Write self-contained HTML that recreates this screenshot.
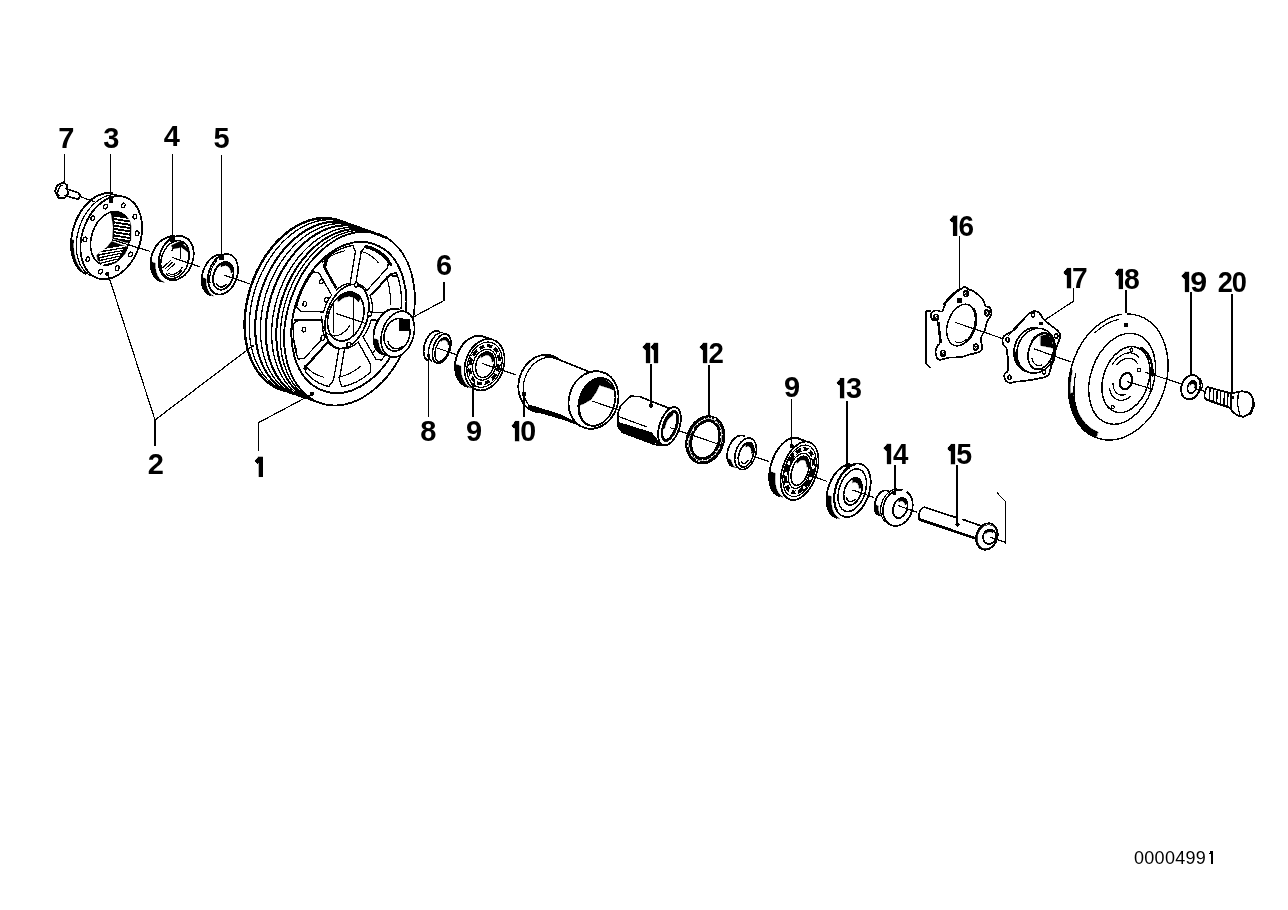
<!DOCTYPE html>
<html><head><meta charset="utf-8"><style>
html,body{margin:0;padding:0;background:#fff;width:1288px;height:910px;overflow:hidden}
svg{position:absolute;left:0;top:0}
text{font-family:"Liberation Sans",sans-serif;font-weight:bold;fill:#000}
svg{will-change:transform}
.code{font-weight:normal}
</style></head><body>
<svg width="1288" height="910" viewBox="0 0 1288 910" shape-rendering="crispEdges">
<rect width="1288" height="910" fill="#fff"/>
<text x="58.35" y="148" font-size="29">7</text>
<text x="103.13" y="147.7" font-size="29">3</text>
<text x="163.87" y="145.8" font-size="29">4</text>
<text x="213.6" y="147.7" font-size="29">5</text>
<text x="436.03" y="275.4" font-size="29">6</text>
<text x="147.69" y="473.9" font-size="29">2</text>
<path d="M258.5 456.6 L262.5 456.6 L262.5 476.6 L258.5 476.6 L258.5 463.2 L257.5 463.6 L255.2 461.2 L255.5 460.2 L257.5 458.2Z" fill="#000" stroke="#000" stroke-width="0.3" stroke-linejoin="round" stroke-linecap="round"/>
<text x="420.17" y="441.3" font-size="29">8</text>
<text x="465.99" y="441.3" font-size="29">9</text>
<path d="M515.2 421.3 L519.2 421.3 L519.2 441.3 L515.2 441.3 L515.2 427.9 L514.2 428.3 L511.9 425.9 L512.2 424.9 L514.2 422.9Z" fill="#000" stroke="#000" stroke-width="0.3" stroke-linejoin="round" stroke-linecap="round"/>
<text transform="translate(520.35 441.3) scale(0.987 1)" font-size="29">0</text>
<path d="M646.1 343 L650.1 343 L650.1 363 L646.1 363 L646.1 349.6 L645.1 350 L642.8 347.6 L643.1 346.6 L645.1 344.6Z" fill="#000" stroke="#000" stroke-width="0.3" stroke-linejoin="round" stroke-linecap="round"/>
<path d="M654 343 L658 343 L658 363 L654 363 L654 349.6 L653 350 L650.7 347.6 L651 346.6 L653 344.6Z" fill="#000" stroke="#000" stroke-width="0.3" stroke-linejoin="round" stroke-linecap="round"/>
<path d="M703.2 343 L707.2 343 L707.2 363 L703.2 363 L703.2 349.6 L702.2 350 L699.9 347.6 L700.2 346.6 L702.2 344.6Z" fill="#000" stroke="#000" stroke-width="0.3" stroke-linejoin="round" stroke-linecap="round"/>
<text transform="translate(708.53 363) scale(0.953 1)" font-size="29">2</text>
<text x="783.99" y="396.6" font-size="29">9</text>
<path d="M840.3 378.4 L844.3 378.4 L844.3 398.4 L840.3 398.4 L840.3 385 L839.3 385.4 L837 383 L837.3 382 L839.3 380Z" fill="#000" stroke="#000" stroke-width="0.3" stroke-linejoin="round" stroke-linecap="round"/>
<text transform="translate(845.94 398.4) scale(0.992 1)" font-size="29">3</text>
<path d="M887 444 L891 444 L891 464 L887 464 L887 450.6 L886 451 L883.7 448.6 L884 447.6 L886 445.6Z" fill="#000" stroke="#000" stroke-width="0.3" stroke-linejoin="round" stroke-linecap="round"/>
<text transform="translate(892.89 464) scale(0.952 1)" font-size="29">4</text>
<path d="M950.9 444.3 L954.9 444.3 L954.9 464.3 L950.9 464.3 L950.9 450.9 L949.9 451.3 L947.6 448.9 L947.9 447.9 L949.9 445.9Z" fill="#000" stroke="#000" stroke-width="0.3" stroke-linejoin="round" stroke-linecap="round"/>
<text transform="translate(956.31 464.3) scale(0.985 1)" font-size="29">5</text>
<path d="M953.3 215.5 L957.3 215.5 L957.3 235.5 L953.3 235.5 L953.3 222.1 L952.3 222.5 L950 220.1 L950.3 219.1 L952.3 217.1Z" fill="#000" stroke="#000" stroke-width="0.3" stroke-linejoin="round" stroke-linecap="round"/>
<text transform="translate(958.57 235.5) scale(0.964 1)" font-size="29">6</text>
<path d="M1067 268.3 L1071 268.3 L1071 288.3 L1067 288.3 L1067 274.9 L1066 275.3 L1063.7 272.9 L1064 271.9 L1066 269.9Z" fill="#000" stroke="#000" stroke-width="0.3" stroke-linejoin="round" stroke-linecap="round"/>
<text transform="translate(1072.09 288.3) scale(0.971 1)" font-size="29">7</text>
<path d="M1118.6 268.8 L1122.6 268.8 L1122.6 288.8 L1118.6 288.8 L1118.6 275.4 L1117.6 275.8 L1115.3 273.4 L1115.6 272.4 L1117.6 270.4Z" fill="#000" stroke="#000" stroke-width="0.3" stroke-linejoin="round" stroke-linecap="round"/>
<text transform="translate(1123.99 288.8) scale(0.979 1)" font-size="29">8</text>
<path d="M1185 271.8 L1189 271.8 L1189 291.8 L1185 291.8 L1185 278.4 L1184 278.8 L1181.7 276.4 L1182 275.4 L1184 273.4Z" fill="#000" stroke="#000" stroke-width="0.3" stroke-linejoin="round" stroke-linecap="round"/>
<text transform="translate(1190.24 291.8) scale(1.047 1)" font-size="29">9</text>
<text transform="translate(1217.65 292) scale(0.938 1)" font-size="29">2</text>
<text transform="translate(1231.79 292) scale(0.938 1)" font-size="29">0</text>
<text class="code" x="1134" y="863.5" font-size="18" letter-spacing="0.3">0000499</text>
<path d="M1211 850.5 L1212.6 850.5 L1212.6 863.5 L1211 863.5 L1211 853.8 L1208.7 854.8 L1208.7 853.5 L1210 852.2Z" fill="#000" stroke="#000" stroke-width="0" stroke-linejoin="round" stroke-linecap="round"/>
<line x1="64.25" y1="154" x2="64.25" y2="183" stroke="#000" stroke-width="1.2"/>
<line x1="110.75" y1="154" x2="110.75" y2="201" stroke="#000" stroke-width="1.2"/>
<line x1="172.5" y1="154" x2="172.5" y2="237" stroke="#000" stroke-width="1.2"/>
<line x1="221.75" y1="155" x2="221.75" y2="257.5" stroke="#000" stroke-width="1.2"/>
<path d="M444 282 L444 300.5 L406 321" fill="none" stroke="#000" stroke-width="1.2" stroke-linejoin="round" stroke-linecap="round"/>
<path d="M107.5 272.5 L155 420 L155 446" fill="none" stroke="#000" stroke-width="1.2" stroke-linejoin="round" stroke-linecap="round"/>
<path d="M252.5 346 L155 420" fill="none" stroke="#000" stroke-width="1.2" stroke-linejoin="round" stroke-linecap="round"/>
<path d="M312.5 394 L258.75 422.5 L258.75 450" fill="none" stroke="#000" stroke-width="1.2" stroke-linejoin="round" stroke-linecap="round"/>
<line x1="428.75" y1="354" x2="428.75" y2="417" stroke="#000" stroke-width="1.2"/>
<line x1="473" y1="380" x2="473" y2="417" stroke="#000" stroke-width="1.2"/>
<line x1="524" y1="392" x2="524" y2="417" stroke="#000" stroke-width="1.2"/>
<line x1="651" y1="364" x2="651" y2="407" stroke="#000" stroke-width="1.2"/>
<line x1="709" y1="365" x2="709" y2="420" stroke="#000" stroke-width="1.2"/>
<line x1="791.75" y1="399" x2="791.75" y2="446" stroke="#000" stroke-width="1.2"/>
<line x1="847" y1="401" x2="847" y2="467.5" stroke="#000" stroke-width="1.2"/>
<line x1="895" y1="465" x2="895" y2="494" stroke="#000" stroke-width="1.2"/>
<line x1="957" y1="465" x2="957" y2="525" stroke="#000" stroke-width="1.2"/>
<line x1="959.5" y1="236" x2="959.5" y2="300" stroke="#000" stroke-width="1.2"/>
<path d="M1073.75 289 L1073.75 301 L1041 322.5" fill="none" stroke="#000" stroke-width="1.2" stroke-linejoin="round" stroke-linecap="round"/>
<line x1="1126" y1="290" x2="1126" y2="325" stroke="#000" stroke-width="1.2"/>
<line x1="1191" y1="292" x2="1191" y2="380" stroke="#000" stroke-width="1.2"/>
<line x1="1232" y1="294" x2="1232" y2="397.5" stroke="#000" stroke-width="1.2"/>
<path d="M57.5 185 L63.3 182.3 L67 185.2 L68 194.1 L64.9 197.6 L58.3 197.6 L55 190.8Z" fill="none" stroke="#000" stroke-width="1.8" stroke-linejoin="round" stroke-linecap="round"/>
<path d="M59.11 195.75 L58.87 195.74 L58.64 195.67 L58.44 195.55 L58.26 195.37 L58.11 195.13 L57.98 194.85 L57.88 194.51 L57.81 194.13 L57.77 193.71 L57.76 193.25 L57.78 192.76 L57.83 192.25 L57.92 191.72 L58.03 191.17 L58.16 190.62 L58.33 190.06 L58.52 189.51 L58.73 188.97 L58.96 188.45 L59.2 187.95 L59.47 187.48 L59.74 187.05 L60.02 186.65 L60.31 186.29 L60.6 185.98 L60.89 185.73 L61.17 185.52 L61.45 185.37 L61.71 185.28 L61.97 185.25 L62.2 185.27 L62.42 185.36 L62.62 185.5" fill="none" stroke="#000" stroke-width="1.4" stroke-linejoin="round" stroke-linecap="round"/>
<path d="M65.8 188.6 L78.2 192.8 L80 195 L78.4 199.4 L64.9 195.6" fill="none" stroke="#000" stroke-width="1.7" stroke-linejoin="round" stroke-linecap="round"/>
<ellipse cx="111.3" cy="237.7" rx="29.07" ry="42.83" transform="rotate(18.9 111.3 237.7)" fill="none" stroke="#000" stroke-width="1.8"/>
<path d="M90.83 275.79 L88.1 274.17 L85.59 272.1 L83.34 269.62 L81.36 266.76 L79.67 263.53 L78.31 259.99 L77.28 256.17 L76.6 252.12 L76.27 247.89 L76.3 243.51 L76.69 239.06 L77.43 234.57 L78.52 230.1 L79.94 225.7 L81.67 221.43 L83.7 217.33 L86.01 213.45 L88.55 209.83 L91.31 206.52 L94.26 203.56 L97.35 200.98 L100.56 198.8 L103.84 197.07 L107.16 195.79 L110.48 194.98 L113.75 194.65 L116.95 194.81" fill="none" stroke="#000" stroke-width="1.2" stroke-linejoin="round" stroke-linecap="round"/>
<path d="M85.62 274.01 L82.9 272.39 L80.39 270.32 L78.13 267.84 L76.15 264.97 L74.47 261.75 L73.11 258.21 L72.08 254.39 L71.4 250.34 L71.07 246.1 L71.1 241.73 L71.49 237.28 L72.23 232.79 L73.32 228.32 L74.74 223.92 L76.47 219.65 L78.5 215.55 L80.8 211.66 L83.35 208.05 L86.11 204.74 L89.05 201.78 L92.15 199.19 L95.35 197.02 L98.64 195.29 L101.96 194.01 L105.27 193.2 L108.55 192.87 L111.75 193.02" fill="none" stroke="#000" stroke-width="1.9" stroke-linejoin="round" stroke-linecap="round"/>
<path d="M79.4 269.32 L77.23 266.64 L75.36 263.58 L73.81 260.17 L72.58 256.46 L71.71 252.48 L71.19 248.29 L71.04 243.94 L71.25 239.47 L73.62 240.28 L73.41 244.75 L73.56 249.1 L74.08 253.29 L74.95 257.27 L76.17 260.98 L77.73 264.39 L79.6 267.45 L81.76 270.13Z" fill="#000" stroke="#000" stroke-width="0.5" stroke-linejoin="round" stroke-linecap="round"/>
<ellipse cx="110.5" cy="238.3" rx="18.93" ry="27.47" transform="rotate(18.9 110.5 238.3)" fill="none" stroke="#000" stroke-width="1.6"/>
<path d="M110.5 211.6 L118.3 211.4 L125 215 L129.3 220 L130.8 226 L130.6 240.5 L127.2 242.7 L112.7 238.3 L113.5 227.2 L111.6 215Z" fill="#000" stroke="#000" stroke-width="0.8" stroke-linejoin="round" stroke-linecap="round"/>
<path d="M115 217.5 L129 219.7" fill="none" stroke="#fff" stroke-width="1.4" stroke-linejoin="round" stroke-linecap="round"/>
<path d="M115 220.8 L129 223" fill="none" stroke="#fff" stroke-width="1.4" stroke-linejoin="round" stroke-linecap="round"/>
<path d="M115 224.1 L129 226.3" fill="none" stroke="#fff" stroke-width="1.4" stroke-linejoin="round" stroke-linecap="round"/>
<path d="M115 227.4 L129 229.6" fill="none" stroke="#fff" stroke-width="1.4" stroke-linejoin="round" stroke-linecap="round"/>
<path d="M115 230.7 L129 232.9" fill="none" stroke="#fff" stroke-width="1.4" stroke-linejoin="round" stroke-linecap="round"/>
<path d="M115 234 L129 236.2" fill="none" stroke="#fff" stroke-width="1.4" stroke-linejoin="round" stroke-linecap="round"/>
<path d="M115 237.3 L129 239.5" fill="none" stroke="#fff" stroke-width="1.4" stroke-linejoin="round" stroke-linecap="round"/>
<path d="M97.2 254.9 L107.2 247.2 L111.6 241.6 L127.2 247.2 L125 253.8 L116 262.7 L106 264.9 L98.3 260.5Z" fill="#000" stroke="#000" stroke-width="0.8" stroke-linejoin="round" stroke-linecap="round"/>
<path d="M99 250.5 L124 246.5" fill="none" stroke="#fff" stroke-width="1.4" stroke-linejoin="round" stroke-linecap="round"/>
<path d="M99.5 253.3 L122.5 249.3" fill="none" stroke="#fff" stroke-width="1.4" stroke-linejoin="round" stroke-linecap="round"/>
<path d="M100 256.1 L121 252.1" fill="none" stroke="#fff" stroke-width="1.4" stroke-linejoin="round" stroke-linecap="round"/>
<path d="M100.5 258.9 L119.5 254.9" fill="none" stroke="#fff" stroke-width="1.4" stroke-linejoin="round" stroke-linecap="round"/>
<path d="M101 261.7 L118 257.7" fill="none" stroke="#fff" stroke-width="1.4" stroke-linejoin="round" stroke-linecap="round"/>
<path d="M101.5 264.5 L116.5 260.5" fill="none" stroke="#fff" stroke-width="1.4" stroke-linejoin="round" stroke-linecap="round"/>
<ellipse cx="105.5" cy="206.6" rx="1.8" ry="2.4" transform="rotate(18.9 105.5 206.6)" fill="none" stroke="#000" stroke-width="1.3"/>
<ellipse cx="123.3" cy="205.5" rx="1.8" ry="2.4" transform="rotate(18.9 123.3 205.5)" fill="none" stroke="#000" stroke-width="1.3"/>
<ellipse cx="134.9" cy="216.6" rx="1.8" ry="2.4" transform="rotate(18.9 134.9 216.6)" fill="none" stroke="#000" stroke-width="1.3"/>
<ellipse cx="137.1" cy="233.3" rx="1.8" ry="2.4" transform="rotate(18.9 137.1 233.3)" fill="none" stroke="#000" stroke-width="1.3"/>
<ellipse cx="130.5" cy="254.4" rx="1.8" ry="2.4" transform="rotate(18.9 130.5 254.4)" fill="none" stroke="#000" stroke-width="1.3"/>
<ellipse cx="117.2" cy="268.2" rx="1.8" ry="2.4" transform="rotate(18.9 117.2 268.2)" fill="none" stroke="#000" stroke-width="1.3"/>
<ellipse cx="100.5" cy="271.6" rx="1.8" ry="2.4" transform="rotate(18.9 100.5 271.6)" fill="none" stroke="#000" stroke-width="1.3"/>
<ellipse cx="87.8" cy="259.4" rx="1.8" ry="2.4" transform="rotate(18.9 87.8 259.4)" fill="none" stroke="#000" stroke-width="1.3"/>
<ellipse cx="85" cy="239.4" rx="1.8" ry="2.4" transform="rotate(18.9 85 239.4)" fill="none" stroke="#000" stroke-width="1.3"/>
<ellipse cx="92.7" cy="218.3" rx="1.8" ry="2.4" transform="rotate(18.9 92.7 218.3)" fill="none" stroke="#000" stroke-width="1.3"/>
<rect x="108.8" y="196" width="4" height="6.5" fill="#000"/>
<circle cx="107.2" cy="273.8" r="2" fill="#000"/>
<path d="M161.11 281.33 L159.46 280.73 L157.92 279.88 L156.48 278.81 L155.17 277.53 L154 276.05 L152.98 274.38 L152.13 272.55 L151.46 270.57 L150.96 268.47 L150.66 266.26 L150.54 263.98 L150.61 261.65 L150.88 259.29 L151.34 256.93 L151.97 254.6 L152.79 252.32 L153.77 250.11 L154.91 248 L156.19 246.02 L157.6 244.18 L159.12 242.51 L160.75 241.02 L162.45 239.73 L164.22 238.65 L166.02 237.8 L167.85 237.19 L169.69 236.81 L171.5 236.68 L173.27 236.8" fill="none" stroke="#000" stroke-width="1.8" stroke-linejoin="round" stroke-linecap="round"/>
<path d="M159.2 280.6 L157.55 279.64 L156.03 278.41 L154.66 276.94 L153.47 275.24 L152.47 273.33 L151.66 271.24 L151.07 269 L150.69 266.64 L150.54 264.18 L150.61 261.65 L155.34 263.27 L155.27 265.8 L155.42 268.26 L155.8 270.62 L156.39 272.86 L157.2 274.95 L158.2 276.86 L159.39 278.56 L160.76 280.03 L162.28 281.26 L163.93 282.22Z" fill="#000" stroke="#000" stroke-width="0.5" stroke-linejoin="round" stroke-linecap="round"/>
<path d="M173.27 236.8 L183.05 236.4" fill="none" stroke="#000" stroke-width="1.8" stroke-linejoin="round" stroke-linecap="round"/>
<ellipse cx="176.25" cy="258.05" rx="16.73" ry="22.7" transform="rotate(18.9 176.25 258.05)" fill="#fff" stroke="#000" stroke-width="1.8"/>
<ellipse cx="175.05" cy="259.65" rx="13.5" ry="19.49" transform="rotate(18.9 175.05 259.65)" fill="none" stroke="#000" stroke-width="1.4"/>
<path d="M171.86 250.73 L172.77 249.31 L173.75 248 L174.78 246.82 L175.85 245.78 L176.96 244.89 L178.08 244.16 L179.21 243.6 L180.33 243.23 L181.43 243.03 L182.49 243.02 L183.51 243.19 L184.47 243.54 L185.36 244.08 L186.17 244.78 L186.9 245.65 L187.52 246.67 L188.05 247.83 L188.46 249.13 L188.76 250.53 L188.94 252.04 L189 253.62 L188.94 255.27 L188.76 256.96 L188.46 258.67 L188.04 260.39 L187.52 262.09" fill="none" stroke="#000" stroke-width="1.4" stroke-linejoin="round" stroke-linecap="round"/>
<path d="M171.9 245.4 L179.8 241.5 L189.3 250.2 L187.7 251.7 L181.4 247 L173.5 248.6Z" fill="#000" stroke="#000" stroke-width="0.8" stroke-linejoin="round" stroke-linecap="round"/>
<path d="M180.6 247.8 L180.6 258" fill="none" stroke="#000" stroke-width="1.2" stroke-linejoin="round" stroke-linecap="round"/>
<path d="M162.8 267.5 L170.5 260.5" fill="none" stroke="#000" stroke-width="1" stroke-linejoin="round" stroke-linecap="round"/>
<path d="M165 269.1 L172.7 262.1" fill="none" stroke="#000" stroke-width="1" stroke-linejoin="round" stroke-linecap="round"/>
<path d="M167.2 270.7 L174.9 263.7" fill="none" stroke="#000" stroke-width="1" stroke-linejoin="round" stroke-linecap="round"/>
<path d="M181.68 270.98 L180.54 272.22 L179.34 273.32 L178.09 274.26 L176.81 275.03 L175.5 275.63 L174.2 276.03 L172.9 276.26 L171.62 276.28 L170.39 276.12 L169.21 275.77 L168.09 275.23 L167.06 274.51 L166.12 273.63" fill="none" stroke="#000" stroke-width="1.2" stroke-linejoin="round" stroke-linecap="round"/>
<path d="M182.01 267.53 L181.14 268.82 L180.19 270 L179.19 271.06 L178.14 271.99 L177.05 272.78 L175.94 273.42 L174.82 273.9 L173.71 274.21 L172.61 274.36 L171.53 274.34 L170.5 274.15 L169.52 273.79 L168.6 273.27" fill="none" stroke="#000" stroke-width="1.2" stroke-linejoin="round" stroke-linecap="round"/>
<rect x="169.8" y="235" width="5" height="7" fill="#000"/>
<path d="M210.42 294.92 L209.03 294.41 L207.72 293.68 L206.52 292.75 L205.42 291.62 L204.45 290.31 L203.61 288.84 L202.92 287.21 L202.37 285.45 L201.99 283.58 L201.76 281.61 L201.7 279.57 L201.8 277.49 L202.07 275.37 L202.5 273.25 L203.08 271.16 L203.81 269.1 L204.68 267.11 L205.69 265.21 L206.81 263.41 L208.04 261.74 L209.37 260.22 L210.78 258.86 L212.25 257.68 L213.78 256.68 L215.33 255.89 L216.9 255.31 L218.46 254.95 L220.01 254.8 L221.52 254.88" fill="none" stroke="#000" stroke-width="1.8" stroke-linejoin="round" stroke-linecap="round"/>
<path d="M208.81 294.3 L207.41 293.46 L206.14 292.39 L205 291.1 L204.01 289.59 L203.19 287.91 L202.54 286.05 L202.07 284.06 L201.79 281.95 L201.7 279.75 L201.8 277.49 L206.06 278.94 L205.96 281.2 L206.05 283.4 L206.33 285.52 L206.8 287.51 L207.45 289.36 L208.27 291.05 L209.26 292.55 L210.4 293.85 L211.67 294.92 L213.06 295.76Z" fill="#000" stroke="#000" stroke-width="0.5" stroke-linejoin="round" stroke-linecap="round"/>
<path d="M221.52 254.88 L229.28 254.38" fill="none" stroke="#000" stroke-width="1.8" stroke-linejoin="round" stroke-linecap="round"/>
<ellipse cx="223" cy="274.25" rx="14.16" ry="20.85" transform="rotate(18.9 223 274.25)" fill="#fff" stroke="#000" stroke-width="1.7"/>
<ellipse cx="223.3" cy="275.85" rx="9.73" ry="14.26" transform="rotate(18.9 223.3 275.85)" fill="none" stroke="#000" stroke-width="1.8"/>
<path d="M220.92 263.49 L222.02 262.89 L223.14 262.43 L224.27 262.14 L225.38 262.01 L226.46 262.04 L227.51 262.24 L228.51 262.6 L229.45 263.12 L230.31 263.78 L231.09 264.6 L231.78 265.54 L232.36 266.61 L232.84 267.79 L233.21 269.06 L233.46 270.42 L233.58 271.84 L231.01 272.84 L230.92 271.78 L230.73 270.76 L230.46 269.8 L230.1 268.92 L229.66 268.12 L229.14 267.41 L228.56 266.8 L227.91 266.3 L227.21 265.91 L226.46 265.64 L225.67 265.49 L224.86 265.47 L224.02 265.57 L223.18 265.79 L222.34 266.13 L221.51 266.58Z" fill="#000" stroke="#000" stroke-width="0.5" stroke-linejoin="round" stroke-linecap="round"/>
<path d="M210.06 282.57 L209.82 280.76 L209.74 278.87 L209.81 276.92 L210.04 274.95 L210.43 272.96 L210.96 270.99 L211.64 269.06 L212.45 267.19 L213.38 265.41 L214.44 263.73 L215.59 262.17 L216.83 260.76" fill="none" stroke="#000" stroke-width="1.1" stroke-linejoin="round" stroke-linecap="round"/>
<path d="M226.22 284.6 L225.42 285.27 L224.6 285.83 L223.76 286.28 L222.92 286.61 L222.09 286.82 L221.26 286.89 L220.47 286.85 L219.7 286.67 L218.97 286.37 L218.3 285.95 L217.68 285.41 L217.13 284.76 L216.65 284.01" fill="none" stroke="#000" stroke-width="1.6" stroke-linejoin="round" stroke-linecap="round"/>
<rect x="219.3" y="253.5" width="5" height="6" fill="#000"/>
<path d="M320.66 402.99 L314.42 401.03 L308.53 398.12 L303.05 394.31 L298.05 389.64 L293.58 384.15 L289.7 377.92 L286.43 371.01 L283.83 363.49 L281.91 355.46 L280.71 346.99 L280.24 338.2 L280.49 329.16 L281.47 320 L283.17 310.8 L285.56 301.68 L288.62 292.72 L292.33 284.05 L296.62 275.74 L301.46 267.9 L306.8 260.6 L312.57 253.95 L318.71 248 L325.14 242.82 L331.81 238.48 L338.62 235.01 L345.52 232.47 L352.41 230.88 L359.23 230.25 L365.89 230.59 L372.32 231.91 L378.45 234.18" fill="none" stroke="#000" stroke-width="1.3" stroke-linejoin="round" stroke-linecap="round"/>
<path d="M316.68 401.63 L310.45 399.67 L304.56 396.76 L299.08 392.95 L294.08 388.28 L289.61 382.79 L285.72 376.56 L282.46 369.65 L279.85 362.13 L277.94 354.09 L276.74 345.63 L276.26 336.84 L276.51 327.8 L277.49 318.64 L279.19 309.44 L281.59 300.32 L284.65 291.36 L288.35 282.69 L292.65 274.38 L297.49 266.54 L302.83 259.24 L308.6 252.59 L314.73 246.64 L321.17 241.46 L327.83 237.12 L334.65 233.65 L341.54 231.11 L348.44 229.52 L355.25 228.89 L361.91 229.23 L368.35 230.55 L374.48 232.82" fill="none" stroke="#000" stroke-width="2" stroke-linejoin="round" stroke-linecap="round"/>
<path d="M312.05 400.05 L305.81 398.08 L299.92 395.18 L294.45 391.37 L289.45 386.69 L284.98 381.21 L281.09 374.97 L277.82 368.06 L275.22 360.54 L273.31 352.51 L272.1 344.04 L271.63 335.25 L271.88 326.22 L272.86 317.05 L274.56 307.85 L276.95 298.73 L280.02 289.78 L283.72 281.1 L288.01 272.79 L292.86 264.95 L298.19 257.66 L303.96 251 L310.1 245.05 L316.53 239.87 L323.2 235.53 L330.01 232.07 L336.91 229.52 L343.8 227.93 L350.62 227.3 L357.28 227.65 L363.71 228.96 L369.84 231.23" fill="none" stroke="#000" stroke-width="1.3" stroke-linejoin="round" stroke-linecap="round"/>
<path d="M306.09 398.01 L299.85 396.04 L293.96 393.13 L288.49 389.32 L283.48 384.65 L279.02 379.17 L275.13 372.93 L271.86 366.02 L269.26 358.5 L267.34 350.47 L266.14 342 L265.67 333.21 L265.92 324.18 L266.9 315.01 L268.6 305.81 L270.99 296.69 L274.05 287.74 L277.76 279.06 L282.05 270.75 L286.9 262.91 L292.23 255.62 L298 248.96 L304.14 243.01 L310.57 237.83 L317.24 233.49 L324.05 230.03 L330.95 227.48 L337.84 225.89 L344.66 225.26 L351.32 225.61 L357.75 226.92 L363.88 229.19" fill="none" stroke="#000" stroke-width="2.1" stroke-linejoin="round" stroke-linecap="round"/>
<path d="M300.79 396.19 L294.55 394.23 L288.66 391.32 L283.19 387.51 L278.19 382.84 L273.72 377.35 L269.83 371.12 L266.56 364.2 L263.96 356.69 L262.05 348.65 L260.84 340.19 L260.37 331.39 L260.62 322.36 L261.6 313.2 L263.3 304 L265.69 294.87 L268.76 285.92 L272.46 277.24 L276.75 268.94 L281.6 261.09 L286.93 253.8 L292.7 247.14 L298.84 241.19 L305.27 236.02 L311.94 231.67 L318.76 228.21 L325.65 225.67 L332.54 224.08 L339.36 223.45 L346.02 223.79 L352.45 225.11 L358.59 227.38" fill="none" stroke="#000" stroke-width="1.3" stroke-linejoin="round" stroke-linecap="round"/>
<path d="M295.58 394.41 L289.35 392.44 L283.46 389.54 L277.98 385.73 L272.98 381.06 L268.51 375.57 L264.62 369.34 L261.36 362.42 L258.76 354.91 L256.84 346.87 L255.64 338.41 L255.16 329.61 L255.42 320.58 L256.4 311.41 L258.09 302.22 L260.49 293.09 L263.55 284.14 L267.25 275.46 L271.55 267.16 L276.39 259.31 L281.73 252.02 L287.5 245.36 L293.63 239.41 L300.07 234.24 L306.74 229.89 L313.55 226.43 L320.45 223.89 L327.34 222.29 L334.15 221.67 L340.82 222.01 L347.25 223.33 L353.38 225.59" fill="none" stroke="#000" stroke-width="2.1" stroke-linejoin="round" stroke-linecap="round"/>
<path d="M289.62 392.37 L283.39 390.4 L277.5 387.5 L272.02 383.69 L267.02 379.01 L262.55 373.53 L258.66 367.3 L255.4 360.38 L252.8 352.87 L250.88 344.83 L249.68 336.37 L249.2 327.57 L249.46 318.54 L250.44 309.37 L252.13 300.18 L254.53 291.05 L257.59 282.1 L261.29 273.42 L265.59 265.11 L270.43 257.27 L275.77 249.98 L281.54 243.32 L287.67 237.37 L294.11 232.2 L300.77 227.85 L307.59 224.39 L314.49 221.85 L321.38 220.25 L328.19 219.63 L334.86 219.97 L341.29 221.28 L347.42 223.55" fill="none" stroke="#000" stroke-width="1.3" stroke-linejoin="round" stroke-linecap="round"/>
<path d="M284.99 390.78 L278.75 388.82 L272.86 385.91 L267.39 382.1 L262.39 377.43 L257.92 371.94 L254.03 365.71 L250.76 358.79 L248.16 351.28 L246.25 343.24 L245.04 334.78 L244.57 325.98 L244.82 316.95 L245.8 307.79 L247.5 298.59 L249.89 289.46 L252.96 280.51 L256.66 271.83 L260.95 263.53 L265.8 255.68 L271.13 248.39 L276.9 241.73 L283.04 235.78 L289.47 230.61 L296.14 226.27 L302.96 222.8 L309.85 220.26 L316.74 218.67 L323.56 218.04 L330.22 218.38 L336.65 219.7 L342.79 221.97" fill="none" stroke="#000" stroke-width="2.4" stroke-linejoin="round" stroke-linecap="round"/>
<path d="M340.8 221.11 L386.27 237.54" fill="none" stroke="#000" stroke-width="2.6" stroke-linejoin="round" stroke-linecap="round"/>
<path d="M284.99 390.78 L310.77 398.4" fill="none" stroke="#000" stroke-width="2" stroke-linejoin="round" stroke-linecap="round"/>
<ellipse cx="349.45" cy="318.55" rx="61.8" ry="89.44" transform="rotate(18.9 349.45 318.55)" fill="none" stroke="#000" stroke-width="1.8"/>
<ellipse cx="348.85" cy="317.5" rx="54.61" ry="77.58" transform="rotate(18.9 348.85 317.5)" fill="none" stroke="#000" stroke-width="1.9"/>
<path d="M355.73 283.16 L361.18 251.93 L365.79 245.57 L368.06 246.07 L370.29 246.7 L372.47 247.48 L374.6 248.39 L376.68 249.44 L378.69 250.63 L380.65 251.95 L382.53 253.4 L384.35 254.98 L386.09 256.68 L387.75 258.5 L389.32 260.44 L387.11 268.31 L367.04 290.3 L365.49 288.48 L363.79 286.89 L361.95 285.55 L359.98 284.48 L357.9 283.68Z" fill="none" stroke="#000" stroke-width="1.3" stroke-linejoin="round" stroke-linecap="round"/>
<path d="M359.85 251.01 L361.96 251.57 L364.02 252.28 L366.03 253.13 L367.99 254.11 L369.88 255.22 L371.72 256.47 L373.49 257.84 L375.19 259.34 L376.81 260.96 L378.36 262.69" fill="none" stroke="#000" stroke-width="1.1" stroke-linejoin="round" stroke-linecap="round"/>
<path d="M365.43 246.93 L368.44 247.61 L371.37 248.56 L374.21 249.75 L376.95 251.19 L379.58 252.87 L382.09 254.79 L384.47 256.94 L386.71 259.31 L388.81 261.89 L390.75 264.67" fill="none" stroke="#000" stroke-width="2.8" stroke-linejoin="round" stroke-linecap="round"/>
<path d="M370.06 295.65 L390.28 273.9 L396.32 272.8 L397.3 275.39 L398.18 278.06 L398.96 280.8 L399.63 283.62 L400.2 286.5 L400.66 289.44 L401.01 292.44 L401.25 295.49 L401.38 298.57 L401.4 301.69 L401.31 304.84 L401.12 308.02 L395.56 312.69 L372.37 312.57 L372.52 309.53 L372.46 306.54 L372.18 303.63 L371.68 300.83 L370.97 298.16Z" fill="none" stroke="#000" stroke-width="1.3" stroke-linejoin="round" stroke-linecap="round"/>
<path d="M386.44 276.97 L387.29 279.47 L388.03 282.04 L388.68 284.68 L389.22 287.39 L389.65 290.16 L389.98 292.98 L390.2 295.84 L390.31 298.75 L390.31 301.69 L390.21 304.66" fill="none" stroke="#000" stroke-width="1.1" stroke-linejoin="round" stroke-linecap="round"/>
<path d="M372.17 294.1 L389.83 274.96 L396.76 276.36" fill="none" stroke="#000" stroke-width="2" stroke-linejoin="round" stroke-linecap="round"/>
<path d="M371.09 320.06 L394.23 320.54 L398.17 325.33 L397.28 328.5 L396.3 331.64 L395.22 334.74 L394.04 337.81 L392.76 340.84 L391.39 343.81 L389.93 346.73 L388.39 349.59 L386.76 352.38 L385.06 355.09 L383.27 357.72 L381.41 360.27 L375.77 359.02 L363.04 336.84 L364.81 334.37 L366.42 331.73 L367.86 328.95 L369.13 326.07 L370.21 323.1Z" fill="none" stroke="#000" stroke-width="1.3" stroke-linejoin="round" stroke-linecap="round"/>
<path d="M386.8 324.66 L385.9 327.62 L384.89 330.55 L383.79 333.44 L382.6 336.29 L381.31 339.09 L379.94 341.83 L378.48 344.51 L376.94 347.13 L375.32 349.67 L373.63 352.13" fill="none" stroke="#000" stroke-width="1.1" stroke-linejoin="round" stroke-linecap="round"/>
<path d="M358.21 342.09 L370.72 364.51 L370.25 372.4 L368.02 374.29 L365.74 376.06 L363.43 377.71 L361.09 379.23 L358.72 380.63 L356.33 381.89 L353.92 383.02 L351.49 384.01 L349.06 384.87 L346.62 385.59 L344.19 386.16 L341.76 386.59 L339.33 380.14 L344.53 348.91 L346.86 348.45 L349.21 347.71 L351.53 346.69 L353.82 345.41 L356.05 343.87Z" fill="none" stroke="#000" stroke-width="1.3" stroke-linejoin="round" stroke-linecap="round"/>
<path d="M360.73 366.14 L358.6 367.83 L356.43 369.4 L354.23 370.85 L352 372.17 L349.75 373.36 L347.48 374.42 L345.2 375.34 L342.91 376.13 L340.62 376.79 L338.33 377.3" fill="none" stroke="#000" stroke-width="1.1" stroke-linejoin="round" stroke-linecap="round"/>
<path d="M338.97 348.84 L333.52 380.07 L328.91 386.43 L326.64 385.93 L324.41 385.3 L322.23 384.52 L320.1 383.61 L318.02 382.56 L316.01 381.37 L314.05 380.05 L312.17 378.6 L310.35 377.02 L308.61 375.32 L306.95 373.5 L305.38 371.56 L307.59 363.69 L327.66 341.7 L329.21 343.52 L330.91 345.11 L332.75 346.45 L334.72 347.52 L336.8 348.32Z" fill="none" stroke="#000" stroke-width="1.3" stroke-linejoin="round" stroke-linecap="round"/>
<path d="M323.5 377.11 L321.39 376.54 L319.33 375.83 L317.32 374.98 L315.36 374 L313.46 372.89 L311.63 371.65 L309.86 370.27 L308.16 368.78 L306.54 367.16 L304.99 365.42" fill="none" stroke="#000" stroke-width="1.1" stroke-linejoin="round" stroke-linecap="round"/>
<path d="M327.23 342.64 L304.25 368.44" fill="none" stroke="#000" stroke-width="2.2" stroke-linejoin="round" stroke-linecap="round"/>
<path d="M324.64 336.35 L304.42 358.1 L298.38 359.2 L297.4 356.61 L296.52 353.94 L295.74 351.2 L295.07 348.38 L294.5 345.5 L294.04 342.56 L293.69 339.56 L293.45 336.51 L293.32 333.43 L293.3 330.31 L293.39 327.16 L293.58 323.98 L299.14 319.31 L322.33 319.43 L322.18 322.47 L322.24 325.46 L322.52 328.37 L323.02 331.17 L323.73 333.84Z" fill="none" stroke="#000" stroke-width="1.3" stroke-linejoin="round" stroke-linecap="round"/>
<path d="M296.91 351.14 L296.06 348.65 L295.31 346.07 L294.67 343.43 L294.13 340.72 L293.7 337.96 L293.37 335.14 L293.15 332.27 L293.04 329.36 L293.03 326.42 L293.14 323.45" fill="none" stroke="#000" stroke-width="1.1" stroke-linejoin="round" stroke-linecap="round"/>
<path d="M321.57 319.83 L294.68 320.22" fill="none" stroke="#000" stroke-width="2.2" stroke-linejoin="round" stroke-linecap="round"/>
<path d="M323.61 311.94 L300.47 311.46 L296.53 306.67 L297.42 303.5 L298.4 300.36 L299.48 297.26 L300.66 294.19 L301.94 291.16 L303.31 288.19 L304.77 285.27 L306.31 282.41 L307.94 279.62 L309.64 276.91 L311.43 274.28 L313.29 271.73 L318.93 272.98 L331.66 295.16 L329.89 297.63 L328.28 300.27 L326.84 303.05 L325.57 305.93 L324.49 308.9Z" fill="none" stroke="#000" stroke-width="1.3" stroke-linejoin="round" stroke-linecap="round"/>
<path d="M296.55 303.45 L297.45 300.49 L298.46 297.56 L299.56 294.67 L300.75 291.82 L302.04 289.02 L303.41 286.28 L304.87 283.6 L306.41 280.98 L308.02 278.44 L309.72 275.98" fill="none" stroke="#000" stroke-width="1.1" stroke-linejoin="round" stroke-linecap="round"/>
<path d="M336.49 289.91 L323.98 267.49 L324.45 259.6 L326.68 257.71 L328.96 255.94 L331.27 254.29 L333.61 252.77 L335.98 251.37 L338.37 250.11 L340.78 248.98 L343.21 247.99 L345.64 247.13 L348.08 246.41 L350.51 245.84 L352.94 245.41 L355.37 251.86 L350.17 283.09 L347.84 283.55 L345.49 284.29 L343.17 285.31 L340.88 286.59 L338.65 288.13Z" fill="none" stroke="#000" stroke-width="1.3" stroke-linejoin="round" stroke-linecap="round"/>
<path d="M322.62 261.97 L324.75 260.28 L326.91 258.71 L329.11 257.27 L331.34 255.95 L333.59 254.75 L335.86 253.69 L338.14 252.77 L340.43 251.98 L342.73 251.33 L345.02 250.81" fill="none" stroke="#000" stroke-width="1.1" stroke-linejoin="round" stroke-linecap="round"/>
<path d="M335.74 287.41 L324.71 267.86 L327.33 258.22" fill="none" stroke="#000" stroke-width="2.6" stroke-linejoin="round" stroke-linecap="round"/>
<ellipse cx="347" cy="316.45" rx="20.32" ry="33.05" transform="rotate(18.9 347 316.45)" fill="#fff" stroke="#000" stroke-width="1.7"/>
<ellipse cx="345.75" cy="316.5" rx="17.25" ry="25.21" transform="rotate(18.9 345.75 316.5)" fill="none" stroke="#000" stroke-width="1.6"/>
<path d="M337.07 298.24 L338.81 296.62 L340.64 295.21 L342.52 294.05 L344.44 293.14 L346.37 292.49 L348.29 292.11 L350.19 292 L352.04 292.17 L353.82 292.61 L355.5 293.32 L357.08 294.29 L358.53 295.51 L359.83 296.96 L360.98 298.64 L358.24 301.85 L357.3 300.48 L356.23 299.29 L355.04 298.29 L353.75 297.49 L352.36 296.91 L350.91 296.55 L349.39 296.41 L347.84 296.5 L346.26 296.81 L344.67 297.34 L343.1 298.09 L341.56 299.04 L340.06 300.19 L338.63 301.53Z" fill="#000" stroke="#000" stroke-width="0.5" stroke-linejoin="round" stroke-linecap="round"/>
<path d="M349.47 325.98 L348.14 327.87 L346.7 329.6 L345.16 331.15 L343.55 332.51 L341.87 333.66 L340.15 334.59 L338.41 335.28 L336.67 335.74 L334.94 335.94 L333.25 335.9 L331.62 335.61 L330.06 335.08 L328.59 334.31 L327.23 333.3 L326 332.08 L324.9 330.66 L323.95 329.04 L323.16 327.26 L322.54 325.32 L322.1 323.25 L321.83 321.08 L321.76 318.83 L321.86 316.53" fill="none" stroke="#000" stroke-width="1.2" stroke-linejoin="round" stroke-linecap="round"/>
<path d="M333 301 L333 333" fill="none" stroke="#000" stroke-width="1" stroke-linejoin="round" stroke-linecap="round"/>
<path d="M353 296 L353 335" fill="none" stroke="#000" stroke-width="1" stroke-linejoin="round" stroke-linecap="round"/>
<ellipse cx="356.3" cy="284.8" rx="2.6" ry="3.2" transform="rotate(18.9 356.3 284.8)" fill="#fff" stroke="#000" stroke-width="0"/>
<ellipse cx="356.3" cy="284.8" rx="1.9" ry="2.4" transform="rotate(18.9 356.3 284.8)" fill="none" stroke="#000" stroke-width="1.4"/>
<ellipse cx="326.4" cy="299.7" rx="2.6" ry="3.2" transform="rotate(18.9 326.4 299.7)" fill="#fff" stroke="#000" stroke-width="0"/>
<ellipse cx="326.4" cy="299.7" rx="1.9" ry="2.4" transform="rotate(18.9 326.4 299.7)" fill="none" stroke="#000" stroke-width="1.4"/>
<ellipse cx="369.6" cy="313.8" rx="2.6" ry="3.2" transform="rotate(18.9 369.6 313.8)" fill="#fff" stroke="#000" stroke-width="0"/>
<ellipse cx="369.6" cy="313.8" rx="1.9" ry="2.4" transform="rotate(18.9 369.6 313.8)" fill="none" stroke="#000" stroke-width="1.4"/>
<ellipse cx="323" cy="337.9" rx="2.6" ry="3.2" transform="rotate(18.9 323 337.9)" fill="#fff" stroke="#000" stroke-width="0"/>
<ellipse cx="323" cy="337.9" rx="1.9" ry="2.4" transform="rotate(18.9 323 337.9)" fill="none" stroke="#000" stroke-width="1.4"/>
<ellipse cx="348.8" cy="344.6" rx="2.6" ry="3.2" transform="rotate(18.9 348.8 344.6)" fill="#fff" stroke="#000" stroke-width="0"/>
<ellipse cx="348.8" cy="344.6" rx="1.9" ry="2.4" transform="rotate(18.9 348.8 344.6)" fill="none" stroke="#000" stroke-width="1.4"/>
<ellipse cx="321.4" cy="281.4" rx="1.8" ry="2.3" transform="rotate(18.9 321.4 281.4)" fill="none" stroke="#000" stroke-width="1.3"/>
<ellipse cx="304.8" cy="303.9" rx="1.8" ry="2.3" transform="rotate(18.9 304.8 303.9)" fill="none" stroke="#000" stroke-width="1.3"/>
<ellipse cx="304" cy="329.6" rx="1.8" ry="2.3" transform="rotate(18.9 304 329.6)" fill="none" stroke="#000" stroke-width="1.3"/>
<circle cx="312" cy="393.6" r="2.2" fill="#000"/>
<circle cx="252.5" cy="346" r="1.5" fill="#000"/>
<ellipse cx="390.18" cy="331.61" rx="15.73" ry="23.71" transform="rotate(18.9 390.18 331.61)" fill="#fff" stroke="#000" stroke-width="0"/>
<ellipse cx="397.75" cy="334.2" rx="15.73" ry="23.71" transform="rotate(18.9 397.75 334.2)" fill="#fff" stroke="#000" stroke-width="0"/>
<path d="M397.86 309.18 L405.43 311.77 L390.07 356.63 L382.5 354.04Z" fill="#fff" stroke="#000" stroke-width="0" stroke-linejoin="round" stroke-linecap="round"/>
<path d="M383.03 354.2 L381.45 353.61 L379.97 352.77 L378.61 351.69 L377.38 350.37 L376.3 348.84 L375.38 347.12 L374.63 345.21 L374.05 343.15 L373.66 340.96 L373.46 338.66 L373.45 336.28 L373.63 333.85 L374 331.39 L374.56 328.94 L375.3 326.51 L376.2 324.14 L377.27 321.86 L378.48 319.69 L379.83 317.66 L381.29 315.79 L382.86 314.09 L384.51 312.6 L386.23 311.33 L387.99 310.28 L389.78 309.48 L391.57 308.94 L393.34 308.65 L395.08 308.63 L396.77 308.87 L398.38 309.37" fill="none" stroke="#000" stroke-width="1.9" stroke-linejoin="round" stroke-linecap="round"/>
<path d="M381.23 353.51 L379.78 352.63 L378.44 351.52 L377.23 350.18 L376.18 348.63 L375.28 346.89 L374.55 344.97 L374 342.91 L373.63 340.71 L373.45 338.41 L378.18 340.03 L378.36 342.33 L378.73 344.53 L379.28 346.59 L380.01 348.51 L380.91 350.25 L381.96 351.8 L383.17 353.14 L384.51 354.25 L385.96 355.13Z" fill="#000" stroke="#000" stroke-width="0.5" stroke-linejoin="round" stroke-linecap="round"/>
<ellipse cx="397.75" cy="334.2" rx="15.73" ry="23.71" transform="rotate(18.9 397.75 334.2)" fill="none" stroke="#000" stroke-width="1.6"/>
<ellipse cx="397" cy="334.7" rx="12.5" ry="16.69" transform="rotate(18.9 397 334.7)" fill="none" stroke="#000" stroke-width="1.6"/>
<path d="M399 318.5 L410 318.5 L410 330.7 L399 330.7Z" fill="#000" stroke="#000" stroke-width="0" stroke-linejoin="round" stroke-linecap="round"/>
<path d="M402.47 346.3 L401.42 347.06 L400.33 347.69 L399.21 348.18 L398.08 348.52 L396.95 348.7 L395.82 348.73 L394.73 348.61 L393.68 348.33 L392.67 347.9 L391.73 347.33 L390.86 346.62 L390.08 345.78 L389.4 344.82 L388.81 343.75 L388.34 342.59 L387.97 341.34" fill="none" stroke="#000" stroke-width="1.4" stroke-linejoin="round" stroke-linecap="round"/>
<path d="M428.09 360.42 L427.25 360.04 L426.48 359.49 L425.78 358.78 L425.17 357.92 L424.66 356.92 L424.24 355.79 L423.92 354.54 L423.71 353.19 L423.61 351.75 L423.62 350.24 L423.74 348.68 L423.96 347.08 L424.3 345.47 L424.74 343.86 L425.27 342.27 L425.89 340.72 L426.6 339.23 L427.39 337.82 L428.24 336.49 L429.15 335.27 L430.1 334.17 L431.09 333.21 L432.1 332.39 L433.13 331.72 L434.15 331.21 L435.16 330.88 L436.15 330.71 L437.11 330.72 L438.01 330.9 L438.87 331.25" fill="none" stroke="#000" stroke-width="1.8" stroke-linejoin="round" stroke-linecap="round"/>
<path d="M431.62 361.06 L430.91 360.43 L430.29 359.65 L429.75 358.73 L429.3 357.68 L428.95 356.51 L428.7 355.24 L428.56 353.88 L428.52 352.44 L428.58 350.95 L428.76 349.41 L429.03 347.85 L429.41 346.28 L429.88 344.73 L430.45 343.2 L431.1 341.72 L431.82 340.31 L432.61 338.97 L433.47 337.73 L434.37 336.6 L435.31 335.58 L436.29 334.71 L437.28 333.97 L438.27 333.39 L439.26 332.96 L440.24 332.7 L441.19 332.6 L442.1 332.68" fill="none" stroke="#000" stroke-width="1.4" stroke-linejoin="round" stroke-linecap="round"/>
<ellipse cx="441.65" cy="348.6" rx="8.39" ry="15.27" transform="rotate(18.9 441.65 348.6)" fill="none" stroke="#000" stroke-width="1.6"/>
<ellipse cx="442.15" cy="349.6" rx="6.54" ry="12.22" transform="rotate(18.9 442.15 349.6)" fill="none" stroke="#000" stroke-width="1.4"/>
<path d="M441.2 339.38 L441.97 338.83 L442.74 338.4 L443.5 338.09 L444.25 337.91 L444.97 337.85 L445.67 337.92 L446.32 338.12 L446.93 338.45 L447.49 338.9 L447.99 339.46 L448.42 340.14 L448.79 340.92 L449.08 341.8 L449.3 342.76 L449.43 343.79 L448.12 344.84 L448.01 343.99 L447.83 343.2 L447.59 342.48 L447.29 341.84 L446.93 341.29 L446.53 340.82 L446.07 340.46 L445.57 340.19 L445.03 340.02 L444.46 339.97 L443.87 340.01 L443.26 340.16 L442.63 340.42 L442 340.77 L441.37 341.22Z" fill="#000" stroke="#000" stroke-width="0.5" stroke-linejoin="round" stroke-linecap="round"/>
<circle cx="428.5" cy="355.8" r="2" fill="#000"/>
<path d="M467.19 386.6 L465.29 385.9 L463.49 384.92 L461.83 383.68 L460.32 382.19 L458.97 380.47 L457.8 378.53 L456.82 376.41 L456.05 374.12 L455.49 371.68 L455.15 369.13 L455.04 366.5 L455.15 363.81 L455.48 361.09 L456.03 358.38 L456.8 355.7 L457.77 353.09 L458.93 350.57 L460.28 348.17 L461.79 345.92 L463.44 343.84 L465.23 341.96 L467.13 340.3 L469.12 338.88 L471.18 337.71 L473.28 336.81 L475.4 336.18 L477.51 335.83 L479.6 335.77 L481.64 336 L483.61 336.52 L485.48 337.31" fill="none" stroke="#000" stroke-width="1.9" stroke-linejoin="round" stroke-linecap="round"/>
<path d="M465 385.76 L463.11 384.66 L461.36 383.26 L459.8 381.58 L458.43 379.64 L457.27 377.46 L456.35 375.09 L455.66 372.53 L455.22 369.83 L455.04 367.03 L455.12 364.15 L460.8 366.1 L460.72 368.97 L460.9 371.78 L461.34 374.47 L462.02 377.03 L462.95 379.41 L464.1 381.58 L465.47 383.52 L467.04 385.2 L468.78 386.6 L470.68 387.71Z" fill="#000" stroke="#000" stroke-width="0.5" stroke-linejoin="round" stroke-linecap="round"/>
<path d="M485.48 337.31 L496.67 341.6" fill="none" stroke="#000" stroke-width="1.9" stroke-linejoin="round" stroke-linecap="round"/>
<ellipse cx="484.55" cy="364.7" rx="19.17" ry="26.36" transform="rotate(18.9 484.55 364.7)" fill="#fff" stroke="#000" stroke-width="1.7"/>
<ellipse cx="484.55" cy="364.7" rx="16.87" ry="23.2" transform="rotate(18.9 484.55 364.7)" fill="none" stroke="#000" stroke-width="1.2"/>
<ellipse cx="484.55" cy="364.7" rx="14.19" ry="19.51" transform="rotate(18.9 484.55 364.7)" fill="none" stroke="#000" stroke-width="3.16"/>
<ellipse cx="496.67" cy="372.43" rx="1.5" ry="1.9" transform="rotate(18.9 496.67 372.43)" fill="#fff" stroke="#000" stroke-width="0"/>
<ellipse cx="490.77" cy="380.08" rx="1.5" ry="1.9" transform="rotate(18.9 490.77 380.08)" fill="#fff" stroke="#000" stroke-width="0"/>
<ellipse cx="483.2" cy="383.61" rx="1.5" ry="1.9" transform="rotate(18.9 483.2 383.61)" fill="#fff" stroke="#000" stroke-width="0"/>
<ellipse cx="476" cy="382.08" rx="1.5" ry="1.9" transform="rotate(18.9 476 382.08)" fill="#fff" stroke="#000" stroke-width="0"/>
<ellipse cx="471.08" cy="375.88" rx="1.5" ry="1.9" transform="rotate(18.9 471.08 375.88)" fill="#fff" stroke="#000" stroke-width="0"/>
<ellipse cx="469.77" cy="366.69" rx="1.5" ry="1.9" transform="rotate(18.9 469.77 366.69)" fill="#fff" stroke="#000" stroke-width="0"/>
<ellipse cx="472.43" cy="356.97" rx="1.5" ry="1.9" transform="rotate(18.9 472.43 356.97)" fill="#fff" stroke="#000" stroke-width="0"/>
<ellipse cx="478.33" cy="349.32" rx="1.5" ry="1.9" transform="rotate(18.9 478.33 349.32)" fill="#fff" stroke="#000" stroke-width="0"/>
<ellipse cx="485.9" cy="345.79" rx="1.5" ry="1.9" transform="rotate(18.9 485.9 345.79)" fill="#fff" stroke="#000" stroke-width="0"/>
<ellipse cx="493.1" cy="347.32" rx="1.5" ry="1.9" transform="rotate(18.9 493.1 347.32)" fill="#fff" stroke="#000" stroke-width="0"/>
<ellipse cx="498.02" cy="353.52" rx="1.5" ry="1.9" transform="rotate(18.9 498.02 353.52)" fill="#fff" stroke="#000" stroke-width="0"/>
<ellipse cx="499.33" cy="362.71" rx="1.5" ry="1.9" transform="rotate(18.9 499.33 362.71)" fill="#fff" stroke="#000" stroke-width="0"/>
<ellipse cx="484.55" cy="364.7" rx="11.5" ry="15.82" transform="rotate(18.9 484.55 364.7)" fill="none" stroke="#000" stroke-width="1.2"/>
<ellipse cx="485.05" cy="364.7" rx="9.01" ry="13.18" transform="rotate(18.9 485.05 364.7)" fill="none" stroke="#000" stroke-width="1.5"/>
<path d="M480.51 355.16 L481.42 354.31 L482.37 353.58 L483.35 352.97 L484.35 352.49 L485.36 352.15 L486.36 351.95 L487.35 351.89 L488.31 351.98 L489.24 352.2 L490.12 352.57 L490.94 353.07 L491.7 353.7 L492.38 354.45 L492.99 355.32 L493.5 356.29 L493.92 357.36 L494.24 358.51 L494.46 359.72 L494.57 360.99 L492.19 361.92 L492.1 360.97 L491.94 360.05 L491.7 359.19 L491.39 358.39 L491 357.67 L490.55 357.02 L490.04 356.45 L489.47 355.98 L488.85 355.6 L488.19 355.33 L487.5 355.16 L486.78 355.1 L486.03 355.14 L485.28 355.29 L484.53 355.55 L483.78 355.9 L483.04 356.36 L482.33 356.91 L481.65 357.54Z" fill="#000" stroke="#000" stroke-width="0.5" stroke-linejoin="round" stroke-linecap="round"/>
<circle cx="473.4" cy="384.8" r="2.1" fill="#000"/>
<path d="M540.23 412.43 L537.65 412.22 L535.14 411.7 L532.71 410.87 L530.4 409.74 L528.23 408.32 L526.23 406.64 L524.42 404.7 L522.82 402.53 L521.44 400.15 L520.3 397.59 L519.41 394.88 L518.79 392.04 L518.44 389.11 L518.36 386.13 L518.55 383.11 L519.02 380.1 L519.76 377.13 L520.75 374.22 L521.99 371.43 L523.47 368.76 L525.16 366.26 L527.06 363.94 L529.13 361.85 L531.36 359.99 L533.72 358.39 L536.19 357.06 L538.74 356.03 L541.33 355.3 L543.95 354.88 L546.57 354.77 L549.15 354.98 L551.66 355.5 L554.09 356.33 L556.4 357.46 L558.57 358.88" fill="none" stroke="#000" stroke-width="1.8" stroke-linejoin="round" stroke-linecap="round"/>
<path d="M536.53 411.17 L534.28 409.95 L532.18 408.44 L530.26 406.66 L528.54 404.63 L527.05 402.37 L525.79 399.92 L524.78 397.3 L524.03 394.53 L523.56 391.65 L523.37 388.7 L523.45 385.71 L523.82 382.71 L524.46 379.73 L525.36 376.82 L526.53 374 L527.93 371.31 L529.57 368.78 L531.41 366.44 L533.44 364.31 L535.64 362.42 L537.97 360.79 L540.41 359.44 L542.94 358.38 L545.52 357.63 L548.13 357.2 L550.73 357.09" fill="none" stroke="#000" stroke-width="1.2" stroke-linejoin="round" stroke-linecap="round"/>
<path d="M543 354.9 L556 358.5 L588.3 371.4" fill="none" stroke="#000" stroke-width="1.8" stroke-linejoin="round" stroke-linecap="round"/>
<path d="M528.5 404.8 L560 414.5 L579.5 424.5 L583 426.5 L562 419 L529 409.5Z" fill="#000" stroke="#000" stroke-width="1" stroke-linejoin="round" stroke-linecap="round"/>
<ellipse cx="593.5" cy="400" rx="24.45" ry="29.27" transform="rotate(18.9 593.5 400)" fill="#fff" stroke="#000" stroke-width="1.8"/>
<ellipse cx="596.7" cy="401.9" rx="17.87" ry="25.06" transform="rotate(18.9 596.7 401.9)" fill="none" stroke="#000" stroke-width="1"/>
<ellipse cx="597.3" cy="401.9" rx="17.18" ry="24.57" transform="rotate(18.9 597.3 401.9)" fill="none" stroke="#000" stroke-width="1.7"/>
<path d="M579.4 405 L583.1 390.4 L593.1 379.6 L603.1 378.1 L613.1 385.8 L614.6 390.4 L609.2 388.1 L599.2 385 L596.2 391.9 L590.8 399.6 L583.8 403.5Z" fill="#000" stroke="#000" stroke-width="0.6" stroke-linejoin="round" stroke-linecap="round"/>
<circle cx="524" cy="394" r="2.1" fill="#000"/>
<path d="M639.7 396.6 L630.5 396.3 L620.6 405.8 L617.9 413.1 L617.9 423 L621.9 432.2 L655 444.5 L666.7 445.6" fill="none" stroke="#000" stroke-width="1.8" stroke-linejoin="round" stroke-linecap="round"/>
<path d="M639.7 396.6 L677.9 411.8" fill="none" stroke="#000" stroke-width="1.8" stroke-linejoin="round" stroke-linecap="round"/>
<path d="M617.9 422.3 L651.6 432.8 L658.1 441.4 L666.7 445.4 L654.2 442.7 L622.5 432.8 L617.9 426.9Z" fill="#000" stroke="#000" stroke-width="1" stroke-linejoin="round" stroke-linecap="round"/>
<path d="M618.5 416.5 L647 427" fill="none" stroke="#000" stroke-width="1.1" stroke-linejoin="round" stroke-linecap="round"/>
<ellipse cx="669.5" cy="426.25" rx="9.93" ry="19.95" transform="rotate(18.9 669.5 426.25)" fill="#fff" stroke="#000" stroke-width="1.8"/>
<ellipse cx="669.7" cy="425.95" rx="6.23" ry="14.8" transform="rotate(18.9 669.7 425.95)" fill="none" stroke="#000" stroke-width="2.2"/>
<ellipse cx="670" cy="425.95" rx="7.35" ry="16.28" transform="rotate(18.9 670 425.95)" fill="none" stroke="#000" stroke-width="0.9"/>
<path d="M662.52 428.84 L662.83 427.32 L663.23 425.78 L663.7 424.24 L664.24 422.72 L664.85 421.24 L665.52 419.81 L666.23 418.46 L666.99 417.2 L667.78 416.04 L668.59 415 L669.42 414.09 L670.25 413.32 L671.07 412.7 L671.87 412.24 L672.65 411.94 L673.4 411.81 L672.29 416.05 L671.77 416.14 L671.22 416.35 L670.66 416.68 L670.08 417.11 L669.5 417.65 L668.92 418.28 L668.36 419.01 L667.8 419.82 L667.27 420.71 L666.77 421.65 L666.31 422.65 L665.88 423.69 L665.5 424.75 L665.17 425.83 L664.89 426.91 L664.67 427.98Z" fill="#000" stroke="#000" stroke-width="0.5" stroke-linejoin="round" stroke-linecap="round"/>
<circle cx="651.1" cy="405.8" r="2.1" fill="#000"/>
<ellipse cx="705.3" cy="439.8" rx="15.9" ry="21.63" transform="rotate(18.9 705.3 439.8)" fill="none" stroke="#000" stroke-width="7"/>
<ellipse cx="720.69" cy="444.23" rx="0.7" ry="0.9" transform="rotate(0 720.69 444.23)" fill="#fff" stroke="#000" stroke-width="0"/>
<ellipse cx="719.17" cy="448.4" rx="0.7" ry="0.9" transform="rotate(0 719.17 448.4)" fill="#fff" stroke="#000" stroke-width="0"/>
<ellipse cx="715.9" cy="451.53" rx="0.7" ry="0.9" transform="rotate(0 715.9 451.53)" fill="#fff" stroke="#000" stroke-width="0"/>
<ellipse cx="715.8" cy="454.59" rx="0.7" ry="0.9" transform="rotate(0 715.8 454.59)" fill="#fff" stroke="#000" stroke-width="0"/>
<ellipse cx="711.95" cy="456.35" rx="0.7" ry="0.9" transform="rotate(0 711.95 456.35)" fill="#fff" stroke="#000" stroke-width="0"/>
<ellipse cx="707.64" cy="459.67" rx="0.7" ry="0.9" transform="rotate(0 707.64 459.67)" fill="#fff" stroke="#000" stroke-width="0"/>
<ellipse cx="704.96" cy="460.53" rx="0.7" ry="0.9" transform="rotate(0 704.96 460.53)" fill="#fff" stroke="#000" stroke-width="0"/>
<ellipse cx="702.51" cy="459.87" rx="0.7" ry="0.9" transform="rotate(0 702.51 459.87)" fill="#fff" stroke="#000" stroke-width="0"/>
<ellipse cx="699.12" cy="461.65" rx="0.7" ry="0.9" transform="rotate(0 699.12 461.65)" fill="#fff" stroke="#000" stroke-width="0"/>
<ellipse cx="696.61" cy="460.35" rx="0.7" ry="0.9" transform="rotate(0 696.61 460.35)" fill="#fff" stroke="#000" stroke-width="0"/>
<ellipse cx="694.83" cy="456.71" rx="0.7" ry="0.9" transform="rotate(0 694.83 456.71)" fill="#fff" stroke="#000" stroke-width="0"/>
<ellipse cx="691.79" cy="455.51" rx="0.7" ry="0.9" transform="rotate(0 691.79 455.51)" fill="#fff" stroke="#000" stroke-width="0"/>
<ellipse cx="691.81" cy="452.58" rx="0.7" ry="0.9" transform="rotate(0 691.81 452.58)" fill="#fff" stroke="#000" stroke-width="0"/>
<ellipse cx="689.29" cy="448.78" rx="0.7" ry="0.9" transform="rotate(0 689.29 448.78)" fill="#fff" stroke="#000" stroke-width="0"/>
<ellipse cx="687.89" cy="445.88" rx="0.7" ry="0.9" transform="rotate(0 687.89 445.88)" fill="#fff" stroke="#000" stroke-width="0"/>
<ellipse cx="687.81" cy="441.88" rx="0.7" ry="0.9" transform="rotate(0 687.81 441.88)" fill="#fff" stroke="#000" stroke-width="0"/>
<ellipse cx="688.48" cy="438.76" rx="0.7" ry="0.9" transform="rotate(0 688.48 438.76)" fill="#fff" stroke="#000" stroke-width="0"/>
<ellipse cx="689.28" cy="434.5" rx="0.7" ry="0.9" transform="rotate(0 689.28 434.5)" fill="#fff" stroke="#000" stroke-width="0"/>
<ellipse cx="693.06" cy="430.53" rx="0.7" ry="0.9" transform="rotate(0 693.06 430.53)" fill="#fff" stroke="#000" stroke-width="0"/>
<ellipse cx="693.69" cy="428.94" rx="0.7" ry="0.9" transform="rotate(0 693.69 428.94)" fill="#fff" stroke="#000" stroke-width="0"/>
<ellipse cx="697.19" cy="423.87" rx="0.7" ry="0.9" transform="rotate(0 697.19 423.87)" fill="#fff" stroke="#000" stroke-width="0"/>
<ellipse cx="699.34" cy="422.5" rx="0.7" ry="0.9" transform="rotate(0 699.34 422.5)" fill="#fff" stroke="#000" stroke-width="0"/>
<ellipse cx="701.89" cy="420.67" rx="0.7" ry="0.9" transform="rotate(0 701.89 420.67)" fill="#fff" stroke="#000" stroke-width="0"/>
<ellipse cx="704.51" cy="419.04" rx="0.7" ry="0.9" transform="rotate(0 704.51 419.04)" fill="#fff" stroke="#000" stroke-width="0"/>
<ellipse cx="708.27" cy="417.51" rx="0.7" ry="0.9" transform="rotate(0 708.27 417.51)" fill="#fff" stroke="#000" stroke-width="0"/>
<ellipse cx="711.64" cy="417.79" rx="0.7" ry="0.9" transform="rotate(0 711.64 417.79)" fill="#fff" stroke="#000" stroke-width="0"/>
<ellipse cx="714.99" cy="418.93" rx="0.7" ry="0.9" transform="rotate(0 714.99 418.93)" fill="#fff" stroke="#000" stroke-width="0"/>
<ellipse cx="715.93" cy="422.64" rx="0.7" ry="0.9" transform="rotate(0 715.93 422.64)" fill="#fff" stroke="#000" stroke-width="0"/>
<ellipse cx="719.66" cy="423.5" rx="0.7" ry="0.9" transform="rotate(0 719.66 423.5)" fill="#fff" stroke="#000" stroke-width="0"/>
<ellipse cx="720.52" cy="427.41" rx="0.7" ry="0.9" transform="rotate(0 720.52 427.41)" fill="#fff" stroke="#000" stroke-width="0"/>
<ellipse cx="720.63" cy="430.76" rx="0.7" ry="0.9" transform="rotate(0 720.63 430.76)" fill="#fff" stroke="#000" stroke-width="0"/>
<ellipse cx="722.02" cy="434.29" rx="0.7" ry="0.9" transform="rotate(0 722.02 434.29)" fill="#fff" stroke="#000" stroke-width="0"/>
<ellipse cx="720.87" cy="436.78" rx="0.7" ry="0.9" transform="rotate(0 720.87 436.78)" fill="#fff" stroke="#000" stroke-width="0"/>
<ellipse cx="722.24" cy="442.3" rx="0.7" ry="0.9" transform="rotate(0 722.24 442.3)" fill="#fff" stroke="#000" stroke-width="0"/>
<ellipse cx="705.3" cy="439.8" rx="15.9" ry="21.63" transform="rotate(18.9 705.3 439.8)" fill="none" stroke="#fff" stroke-width="0.7"/>
<path d="M732.69 466.67 L731.7 466.23 L730.79 465.62 L729.96 464.84 L729.22 463.91 L728.58 462.82 L728.05 461.61 L727.64 460.27 L727.35 458.83 L727.18 457.3 L727.13 455.69 L727.21 454.04 L727.42 452.35 L727.75 450.65 L728.19 448.96 L728.75 447.29 L729.42 445.67 L730.18 444.12 L731.04 442.64 L731.97 441.26 L732.98 440 L734.04 438.87 L735.15 437.88 L736.29 437.05 L737.45 436.38 L738.62 435.88 L739.78 435.56 L740.92 435.42 L742.02 435.46 L743.08 435.68 L744.08 436.09" fill="none" stroke="#000" stroke-width="1.7" stroke-linejoin="round" stroke-linecap="round"/>
<path d="M731.88 466.33 L730.92 465.72 L730.04 464.93 L729.26 463.97 L728.59 462.85 L728.04 461.58 L727.62 460.18 L727.32 458.66 L731.11 459.96 L731.4 461.47 L731.83 462.87 L732.38 464.14 L733.04 465.27 L733.82 466.23 L734.7 467.02 L735.67 467.63Z" fill="#000" stroke="#000" stroke-width="0.5" stroke-linejoin="round" stroke-linecap="round"/>
<ellipse cx="745.55" cy="453.8" rx="10.01" ry="16.34" transform="rotate(18.9 745.55 453.8)" fill="none" stroke="#000" stroke-width="1.6"/>
<ellipse cx="746.05" cy="454.8" rx="7.01" ry="12.75" transform="rotate(18.9 746.05 454.8)" fill="none" stroke="#000" stroke-width="1.7"/>
<path d="M746.31 443.22 L747.16 442.85 L748 442.61 L748.81 442.53 L749.59 442.59 L750.32 442.79 L751.01 443.14 L751.64 443.62 L752.2 444.24 L752.69 444.99 L753.09 445.85 L753.42 446.81 L753.66 447.88 L753.81 449.02 L753.86 450.23 L753.82 451.5 L753.69 452.81 L751.4 453.41 L751.49 452.49 L751.52 451.6 L751.48 450.75 L751.38 449.95 L751.21 449.21 L750.98 448.53 L750.7 447.93 L750.35 447.41 L749.96 446.98 L749.52 446.64 L749.04 446.39 L748.53 446.25 L747.98 446.21 L747.41 446.27 L746.83 446.43 L746.23 446.69Z" fill="#000" stroke="#000" stroke-width="0.5" stroke-linejoin="round" stroke-linecap="round"/>
<path d="M748.28 460.32 L747.79 460.98 L747.27 461.58 L746.74 462.1 L746.2 462.54 L745.66 462.9 L745.12 463.16 L744.6 463.34 L744.09 463.42 L743.6 463.41 L743.14 463.31 L742.71 463.11 L742.32 462.82 L741.96 462.44 L741.66 461.98 L741.4 461.44" fill="none" stroke="#000" stroke-width="1.2" stroke-linejoin="round" stroke-linecap="round"/>
<path d="M778.95 495.76 L777.26 495.12 L775.68 494.16 L774.25 492.9 L772.97 491.34 L771.87 489.52 L770.94 487.44 L770.21 485.13 L769.68 482.61 L769.36 479.92 L769.25 477.09 L769.35 474.14 L769.66 471.11 L770.18 468.04 L770.9 464.95 L771.81 461.88 L772.91 458.87 L774.18 455.95 L775.6 453.15 L777.17 450.51 L778.86 448.05 L780.66 445.8 L782.53 443.79 L784.48 442.03 L786.46 440.56 L788.46 439.38 L790.46 438.5 L792.44 437.95 L794.37 437.72 L796.23 437.82 L797.99 438.24 L799.65 438.98" fill="none" stroke="#000" stroke-width="1.9" stroke-linejoin="round" stroke-linecap="round"/>
<path d="M777.01 494.99 L775.35 493.9 L773.85 492.46 L772.54 490.7 L771.43 488.63 L770.54 486.28 L769.88 483.68 L769.45 480.87 L769.26 477.87 L769.31 474.74 L769.61 471.5 L775.28 473.45 L774.99 476.68 L774.93 479.82 L775.12 482.81 L775.55 485.62 L776.22 488.22 L777.11 490.57 L778.22 492.64 L779.53 494.41 L781.02 495.84 L782.68 496.93Z" fill="#000" stroke="#000" stroke-width="0.5" stroke-linejoin="round" stroke-linecap="round"/>
<path d="M799.65 438.98 L812.52 443.91" fill="none" stroke="#000" stroke-width="1.9" stroke-linejoin="round" stroke-linecap="round"/>
<ellipse cx="799.55" cy="470.8" rx="17.13" ry="30.3" transform="rotate(18.9 799.55 470.8)" fill="#fff" stroke="#000" stroke-width="1.7"/>
<ellipse cx="799.55" cy="470.8" rx="15.08" ry="26.67" transform="rotate(18.9 799.55 470.8)" fill="none" stroke="#000" stroke-width="1.2"/>
<ellipse cx="799.55" cy="470.8" rx="12.68" ry="22.42" transform="rotate(18.9 799.55 470.8)" fill="none" stroke="#000" stroke-width="3.64"/>
<ellipse cx="810.1" cy="478.53" rx="1.5" ry="1.9" transform="rotate(18.9 810.1 478.53)" fill="#fff" stroke="#000" stroke-width="0"/>
<ellipse cx="804.07" cy="487.58" rx="1.5" ry="1.9" transform="rotate(18.9 804.07 487.58)" fill="#fff" stroke="#000" stroke-width="0"/>
<ellipse cx="796.83" cy="492.14" rx="1.5" ry="1.9" transform="rotate(18.9 796.83 492.14)" fill="#fff" stroke="#000" stroke-width="0"/>
<ellipse cx="790.31" cy="490.98" rx="1.5" ry="1.9" transform="rotate(18.9 790.31 490.98)" fill="#fff" stroke="#000" stroke-width="0"/>
<ellipse cx="786.28" cy="484.41" rx="1.5" ry="1.9" transform="rotate(18.9 786.28 484.41)" fill="#fff" stroke="#000" stroke-width="0"/>
<ellipse cx="785.79" cy="474.2" rx="1.5" ry="1.9" transform="rotate(18.9 785.79 474.2)" fill="#fff" stroke="#000" stroke-width="0"/>
<ellipse cx="789" cy="463.07" rx="1.5" ry="1.9" transform="rotate(18.9 789 463.07)" fill="#fff" stroke="#000" stroke-width="0"/>
<ellipse cx="795.03" cy="454.02" rx="1.5" ry="1.9" transform="rotate(18.9 795.03 454.02)" fill="#fff" stroke="#000" stroke-width="0"/>
<ellipse cx="802.27" cy="449.46" rx="1.5" ry="1.9" transform="rotate(18.9 802.27 449.46)" fill="#fff" stroke="#000" stroke-width="0"/>
<ellipse cx="808.79" cy="450.62" rx="1.5" ry="1.9" transform="rotate(18.9 808.79 450.62)" fill="#fff" stroke="#000" stroke-width="0"/>
<ellipse cx="812.82" cy="457.19" rx="1.5" ry="1.9" transform="rotate(18.9 812.82 457.19)" fill="#fff" stroke="#000" stroke-width="0"/>
<ellipse cx="813.31" cy="467.4" rx="1.5" ry="1.9" transform="rotate(18.9 813.31 467.4)" fill="#fff" stroke="#000" stroke-width="0"/>
<ellipse cx="799.55" cy="470.8" rx="10.28" ry="18.18" transform="rotate(18.9 799.55 470.8)" fill="none" stroke="#000" stroke-width="1.2"/>
<ellipse cx="800.05" cy="470.8" rx="8.05" ry="15.15" transform="rotate(18.9 800.05 470.8)" fill="none" stroke="#000" stroke-width="1.5"/>
<path d="M796.62 460.44 L797.53 459.42 L798.46 458.52 L799.41 457.76 L800.37 457.15 L801.32 456.69 L802.26 456.39 L803.17 456.24 L804.05 456.26 L804.89 456.44 L805.67 456.78 L806.39 457.28 L807.03 457.93 L807.6 458.72 L808.09 459.65 L808.49 460.7 L808.79 461.86 L808.99 463.12 L809.1 464.47 L809.1 465.89 L806.84 467.12 L806.84 466.05 L806.76 465.04 L806.6 464.1 L806.38 463.22 L806.08 462.44 L805.72 461.74 L805.29 461.15 L804.8 460.66 L804.26 460.29 L803.68 460.03 L803.05 459.9 L802.39 459.88 L801.71 459.99 L801 460.22 L800.29 460.56 L799.57 461.02 L798.86 461.59 L798.16 462.26 L797.48 463.03Z" fill="#000" stroke="#000" stroke-width="0.5" stroke-linejoin="round" stroke-linecap="round"/>
<circle cx="791.75" cy="446" r="2.1" fill="#000"/>
<path d="M836.45 517.61 L834.79 516.99 L833.24 516.08 L831.82 514.91 L830.54 513.47 L829.42 511.79 L828.46 509.89 L827.69 507.78 L827.11 505.49 L826.71 503.05 L826.52 500.48 L826.53 497.8 L826.74 495.05 L827.15 492.26 L827.75 489.47 L828.54 486.69 L829.5 483.96 L830.64 481.3 L831.93 478.76 L833.36 476.36 L834.92 474.12 L836.59 472.06 L838.35 470.22 L840.18 468.61 L842.06 467.24 L843.97 466.14 L845.89 465.31 L847.8 464.77 L849.67 464.52 L851.5 464.56" fill="none" stroke="#000" stroke-width="1.9" stroke-linejoin="round" stroke-linecap="round"/>
<path d="M834.52 516.85 L832.87 515.81 L831.38 514.46 L830.05 512.8 L828.92 510.87 L827.99 508.68 L827.28 506.28 L826.79 503.67 L826.54 500.91 L826.52 498.03 L826.74 495.05 L831.47 496.67 L831.25 499.65 L831.27 502.53 L831.52 505.29 L832.01 507.9 L832.72 510.3 L833.65 512.49 L834.78 514.42 L836.11 516.08 L837.6 517.43 L839.25 518.47Z" fill="#000" stroke="#000" stroke-width="0.5" stroke-linejoin="round" stroke-linecap="round"/>
<path d="M851.5 464.56 L860.75 463.89" fill="none" stroke="#000" stroke-width="1.9" stroke-linejoin="round" stroke-linecap="round"/>
<ellipse cx="852.35" cy="490.25" rx="16.92" ry="27.67" transform="rotate(18.9 852.35 490.25)" fill="#fff" stroke="#000" stroke-width="1.8"/>
<ellipse cx="852.25" cy="490.25" rx="13.04" ry="22.01" transform="rotate(18.9 852.25 490.25)" fill="none" stroke="#000" stroke-width="1.5"/>
<path d="M837.03 509.24 L836.18 507.31 L835.52 505.19 L835.05 502.89 L834.77 500.44 L834.7 497.87 L834.82 495.21 L835.14 492.5 L835.66 489.76 L836.36 487.02 L837.25 484.33 L838.31 481.7 L839.52 479.17 L840.88 476.77 L842.37 474.53 L843.96 472.47 L845.65 470.62 L847.41 469 L849.22 467.62 L851.07 466.51 L852.92 465.68 L854.76 465.13" fill="none" stroke="#000" stroke-width="1.1" stroke-linejoin="round" stroke-linecap="round"/>
<ellipse cx="852.85" cy="491.45" rx="8.52" ry="14.02" transform="rotate(18.9 852.85 491.45)" fill="none" stroke="#000" stroke-width="1.7"/>
<path d="M852.75 478.58 L853.72 478.21 L854.68 477.98 L855.62 477.9 L856.52 477.97 L857.39 478.18 L858.21 478.54 L858.97 479.05 L859.66 479.69 L860.28 480.45 L860.81 481.34 L861.26 482.34 L861.62 483.44 L861.88 484.62 L862.04 485.88 L862.1 487.21 L859.14 488.56 L859.1 487.67 L858.99 486.81 L858.81 486 L858.57 485.25 L858.26 484.58 L857.9 483.97 L857.48 483.45 L857.01 483.02 L856.49 482.67 L855.94 482.43 L855.35 482.28 L854.73 482.24 L854.09 482.29 L853.44 482.45 L852.79 482.7Z" fill="#000" stroke="#000" stroke-width="0.5" stroke-linejoin="round" stroke-linecap="round"/>
<path d="M854.98 499.32 L854.32 499.95 L853.64 500.48 L852.95 500.91 L852.26 501.24 L851.58 501.46 L850.91 501.57 L850.26 501.57 L849.64 501.46 L849.06 501.24 L848.52 500.91 L848.02 500.48 L847.58 499.95 L847.19 499.33 L846.87 498.62 L846.61 497.83" fill="none" stroke="#000" stroke-width="1.4" stroke-linejoin="round" stroke-linecap="round"/>
<rect x="845.5" y="462.5" width="4" height="6" fill="#000"/>
<path d="M880.22 515.39 L879.39 515.28 L878.6 515.04 L877.85 514.66 L877.17 514.14 L876.55 513.51 L876 512.76 L875.53 511.89 L875.15 510.93 L874.85 509.88 L874.64 508.75 L874.52 507.56 L874.5 506.32 L874.58 505.04 L874.75 503.73 L875 502.42 L875.35 501.11 L875.79 499.82 L876.3 498.56 L876.89 497.35 L877.55 496.21 L878.26 495.14 L879.03 494.15 L879.85 493.26 L880.7 492.48 L881.58 491.81 L882.47 491.27 L883.37 490.85 L884.26 490.57 L885.15 490.42 L886.01 490.41 L886.83 490.54 L887.62 490.81 L888.35 491.21 L889.03 491.74" fill="none" stroke="#000" stroke-width="1.8" stroke-linejoin="round" stroke-linecap="round"/>
<path d="M877.63 514.51 L876.97 513.96 L876.37 513.29 L875.85 512.51 L875.41 511.62 L875.05 510.63 L874.78 509.56 L874.6 508.42 L874.51 507.22 L874.51 505.97 L874.61 504.69 L878.4 505.98 L878.3 507.27 L878.29 508.52 L878.38 509.72 L878.56 510.86 L878.83 511.93 L879.19 512.91 L879.64 513.8 L880.16 514.59 L880.75 515.26 L881.41 515.8Z" fill="#000" stroke="#000" stroke-width="0.5" stroke-linejoin="round" stroke-linecap="round"/>
<ellipse cx="897.85" cy="507.85" rx="14.35" ry="18.54" transform="rotate(18.9 897.85 507.85)" fill="#fff" stroke="#000" stroke-width="0"/>
<path d="M907.17 492.11 L908.33 493.14 L909.37 494.34 L910.29 495.68 L911.07 497.16 L911.71 498.76 L912.19 500.45 L912.52 502.23 L912.68 504.07 L912.68 505.95 L912.52 507.86 L912.19 509.76 L911.71 511.64 L911.07 513.48 L910.29 515.26 L909.37 516.96 L908.32 518.55 L907.16 520.03 L905.9 521.37 L904.55 522.57 L903.12 523.6 L901.63 524.46 L900.11 525.13 L898.56 525.62 L897 525.91 L895.45 526 L893.93 525.89 L892.45 525.58 L891.03 525.08 L889.68 524.38 L888.43 523.51 L887.27 522.46 L886.24 521.25 L885.33 519.89 L884.56 518.4 L883.94 516.8 L883.47 515.09 L883.16 513.31 L883.01 511.46 L883.03 509.58 L883.21 507.67 L883.55 505.77 L884.04 503.89 L884.69 502.06 L885.49 500.29 L886.42 498.6 L887.47 497.01 L888.65 495.55 L889.92 494.21 L891.28 493.03 L892.71 492.02 L894.2 491.17 L895.73 490.51 L897.28 490.05 L898.84 489.77 L900.39 489.7 L901.91 489.83" fill="none" stroke="#000" stroke-width="1.7" stroke-linejoin="round" stroke-linecap="round"/>
<path d="M885.2 521.94 L884.12 520.75 L883.17 519.41 L882.36 517.94 L881.7 516.34 L881.19 514.63 L880.84 512.84 L880.66 510.98 L880.65 509.08 L880.8 507.16 L881.12 505.23 L881.6 503.33 L882.24 501.47 L883.03 499.67 L883.96 497.95 L885.01 496.33 L886.19 494.84 L887.47 493.48 L888.84 492.28 L890.29 491.24 L891.79 490.39 L893.34 489.71 L894.91 489.24 L896.48 488.96" fill="none" stroke="#000" stroke-width="1.2" stroke-linejoin="round" stroke-linecap="round"/>
<ellipse cx="900.25" cy="508" rx="6.8" ry="10.31" transform="rotate(18.9 900.25 508)" fill="none" stroke="#000" stroke-width="1.8"/>
<path d="M898.67 499.11 L899.42 498.68 L900.18 498.35 L900.94 498.13 L901.69 498.02 L902.42 498.01 L903.13 498.12 L903.81 498.33 L904.45 498.65 L905.05 499.07 L905.59 499.59 L906.07 500.2 L906.49 500.9 L906.84 501.67 L907.12 502.51 L907.33 503.42 L905.2 504.79 L905.06 504.16 L904.87 503.57 L904.62 503.03 L904.33 502.54 L903.99 502.11 L903.61 501.75 L903.19 501.45 L902.74 501.23 L902.27 501.08 L901.77 501.01 L901.26 501.01 L900.73 501.09 L900.2 501.25 L899.67 501.48 L899.15 501.78Z" fill="#000" stroke="#000" stroke-width="0.5" stroke-linejoin="round" stroke-linecap="round"/>
<circle cx="894.3" cy="493" r="2.2" fill="#000"/>
<path d="M924.6 507.3 L957.5 518" fill="none" stroke="#000" stroke-width="1.7" stroke-linejoin="round" stroke-linecap="round"/>
<path d="M962.8 519.4 L981.3 526" fill="none" stroke="#000" stroke-width="1.7" stroke-linejoin="round" stroke-linecap="round"/>
<path d="M919.3 519.4 L978.6 539.3" fill="none" stroke="#000" stroke-width="2.6" stroke-linejoin="round" stroke-linecap="round"/>
<path d="M920.28 519.61 L919.97 519.46 L919.7 519.25 L919.46 518.97 L919.25 518.63 L919.07 518.24 L918.93 517.8 L918.84 517.31 L918.78 516.77 L918.76 516.2 L918.78 515.61 L918.85 514.98 L918.95 514.35 L919.1 513.7 L919.28 513.05 L919.49 512.41 L919.74 511.77 L920.02 511.16 L920.33 510.57 L920.66 510.02 L921.01 509.5 L921.37 509.02 L921.75 508.6 L922.14 508.23 L922.53 507.92 L922.92 507.66 L923.31 507.47 L923.69 507.35 L924.05 507.3 L924.4 507.31 L924.72 507.39" fill="none" stroke="#000" stroke-width="1.7" stroke-linejoin="round" stroke-linecap="round"/>
<ellipse cx="986.85" cy="536.5" rx="10.5" ry="13.48" transform="rotate(18.9 986.85 536.5)" fill="#fff" stroke="#000" stroke-width="1.8"/>
<ellipse cx="987.15" cy="536.8" rx="9.66" ry="12.4" transform="rotate(18.9 987.15 536.8)" fill="none" stroke="#000" stroke-width="0.8"/>
<ellipse cx="989.5" cy="536.75" rx="6.39" ry="7.34" transform="rotate(18.9 989.5 536.75)" fill="none" stroke="#000" stroke-width="1.7"/>
<path d="M984.63 532.43 L985.11 531.84 L985.63 531.31 L986.2 530.84 L986.8 530.43 L987.43 530.1 L988.09 529.83 L988.76 529.64 L989.44 529.53 L990.12 529.5 L990.79 529.55 L991.45 529.67 L992.09 529.88 L992.7 530.16 L993.27 530.51 L993.8 530.93 L992.51 532.68 L992.14 532.38 L991.74 532.14 L991.31 531.94 L990.87 531.8 L990.4 531.71 L989.93 531.68 L989.46 531.7 L988.98 531.78 L988.51 531.91 L988.05 532.09 L987.61 532.33 L987.19 532.61 L986.79 532.94 L986.42 533.31 L986.09 533.72Z" fill="#000" stroke="#000" stroke-width="0.5" stroke-linejoin="round" stroke-linecap="round"/>
<circle cx="957.5" cy="524.6" r="2.2" fill="#000"/>
<path d="M997.1 493 L1005.6 501.6 L1005.6 543" fill="none" stroke="#000" stroke-width="1.3" stroke-linejoin="round" stroke-linecap="round"/>
<path d="M931 311 L926 311 L926 364 L931 368" fill="none" stroke="#000" stroke-width="1.3" stroke-linejoin="round" stroke-linecap="round"/>
<path d="M964.7 286.8 C965.75 287.2 968.25 289.17 969.7 289.9 C971.15 290.63 971.33 289.75 973.4 291.2 C975.47 292.65 980.03 296.12 982.1 298.6 C984.17 301.08 984.57 304.65 985.8 306.1 C987.03 307.55 988.57 306.07 989.5 307.3 C990.43 308.53 991.6 311.42 991.4 313.5 C991.2 315.58 989.13 318.13 988.3 319.8 C987.47 321.47 987.02 321.65 986.4 323.5 C985.78 325.35 985.53 328.42 984.6 330.9 C983.67 333.38 981.22 335.28 980.8 338.4 C980.38 341.52 983.13 347.12 982.1 349.6 C981.07 352.08 976.67 352.48 974.6 353.3 C972.53 354.12 971.97 353.88 969.7 354.5 C967.43 355.12 964.32 356.48 961 357 C957.68 357.52 952.28 357.38 949.8 357.6 C947.32 357.82 947.97 357.98 946.1 358.3 C944.23 358.62 940.37 360.55 938.6 359.5 C936.83 358.45 935.7 354.28 935.5 352 C935.3 349.72 936.68 347.45 937.4 345.8 C938.12 344.15 939.8 346.23 939.8 342.1 C939.8 337.97 938.63 324.72 937.4 321 C936.17 317.28 933.45 321.05 932.4 319.8 C931.35 318.55 930.48 315.07 931.1 313.5 C931.72 311.93 934.23 310.8 936.1 310.4 C937.97 310 940.63 312.43 942.3 311.1 C943.97 309.77 943.82 305.52 946.1 302.4 C948.38 299.28 953.12 294.88 956 292.4 C958.88 289.92 961.95 288.43 963.4 287.5 C964.85 286.57 963.65 286.4 964.7 286.8Z" fill="#fff" stroke="#000" stroke-width="1.7" stroke-linejoin="round"/>
<path d="M943.5 304 L950 296 L958 289.5" fill="none" stroke="#000" stroke-width="1" stroke-linejoin="round" stroke-linecap="round"/>
<path d="M939 322 L941.5 343" fill="none" stroke="#000" stroke-width="1" stroke-linejoin="round" stroke-linecap="round"/>
<ellipse cx="965.9" cy="293.7" rx="2.3" ry="2.9" transform="rotate(0 965.9 293.7)" fill="none" stroke="#000" stroke-width="1.6"/>
<ellipse cx="966.2" cy="294" rx="0.9" ry="1.3" transform="rotate(0 966.2 294)" fill="none" stroke="#000" stroke-width="0.9"/>
<ellipse cx="987" cy="312.9" rx="2.3" ry="2.9" transform="rotate(0 987 312.9)" fill="none" stroke="#000" stroke-width="1.6"/>
<ellipse cx="987.3" cy="313.2" rx="0.9" ry="1.3" transform="rotate(0 987.3 313.2)" fill="none" stroke="#000" stroke-width="0.9"/>
<ellipse cx="975.9" cy="347.1" rx="2.3" ry="2.9" transform="rotate(0 975.9 347.1)" fill="none" stroke="#000" stroke-width="1.6"/>
<ellipse cx="976.2" cy="347.4" rx="0.9" ry="1.3" transform="rotate(0 976.2 347.4)" fill="none" stroke="#000" stroke-width="0.9"/>
<ellipse cx="943" cy="353.3" rx="2.3" ry="2.9" transform="rotate(0 943 353.3)" fill="none" stroke="#000" stroke-width="1.6"/>
<ellipse cx="943.3" cy="353.6" rx="0.9" ry="1.3" transform="rotate(0 943.3 353.6)" fill="none" stroke="#000" stroke-width="0.9"/>
<ellipse cx="936.1" cy="317.3" rx="2.3" ry="2.9" transform="rotate(0 936.1 317.3)" fill="none" stroke="#000" stroke-width="1.6"/>
<ellipse cx="936.4" cy="317.6" rx="0.9" ry="1.3" transform="rotate(0 936.4 317.6)" fill="none" stroke="#000" stroke-width="0.9"/>
<ellipse cx="961.3" cy="325" rx="13.57" ry="21.49" transform="rotate(18.9 961.3 325)" fill="none" stroke="#000" stroke-width="1.5"/>
<path d="M973.75 309.59 L974.5 311.2 L975.1 312.98 L975.54 314.9 L975.81 316.94 L975.9 319.07 L975.82 321.28 L975.57 323.53 L975.15 325.8 L974.56 328.05 L973.82 330.28 L972.93 332.44 L971.9 334.51 L970.74 336.46 L969.47 338.29 L968.1 339.95 L966.66 341.43" fill="none" stroke="#000" stroke-width="2.6" stroke-linejoin="round" stroke-linecap="round"/>
<path d="M966.59 339.15 L965.43 340.14 L964.23 340.98 L963.02 341.66 L961.8 342.16 L960.58 342.49 L959.38 342.63 L958.21 342.6 L957.09 342.38 L956.03 341.98 L955.03 341.41" fill="none" stroke="#000" stroke-width="1" stroke-linejoin="round" stroke-linecap="round"/>
<rect x="957.4" y="297.5" width="4.6" height="5.8" fill="#000"/>
<path d="M1029.3 313.5 C1031.17 312.05 1032.65 311.2 1034.3 311.1 C1035.95 311 1037.55 311.45 1039.2 312.9 C1040.85 314.35 1042.13 317.62 1044.2 319.8 C1046.27 321.98 1049.32 324.15 1051.6 326 C1053.88 327.85 1056.45 329.25 1057.9 330.9 C1059.35 332.55 1060.3 333.82 1060.3 335.9 C1060.3 337.98 1058.72 340.92 1057.9 343.4 C1057.08 345.88 1056.03 348.12 1055.4 350.8 C1054.77 353.48 1054.73 357.22 1054.1 359.5 C1053.47 361.78 1052.22 362.85 1051.6 364.5 C1050.98 366.15 1051.02 367.53 1050.4 369.4 C1049.78 371.27 1049.55 374.25 1047.9 375.7 C1046.25 377.15 1044.02 377.28 1040.5 378.1 C1036.98 378.92 1031.15 379.97 1026.8 380.6 C1022.45 381.23 1017.08 381.48 1014.4 381.9 C1011.72 382.32 1012.15 383.32 1010.7 383.1 C1009.25 382.88 1006.75 382.05 1005.7 380.6 C1004.65 379.15 1003.98 376.27 1004.4 374.4 C1004.82 372.53 1007.78 373.53 1008.2 369.4 C1008.62 365.27 1007.73 353.73 1006.9 349.6 C1006.07 345.47 1003.82 346.68 1003.2 344.6 C1002.58 342.52 1002.37 338.97 1003.2 337.1 C1004.03 335.23 1006.33 334.63 1008.2 333.4 C1010.07 332.17 1011.92 331.97 1014.4 329.7 C1016.88 327.43 1020.62 322.5 1023.1 319.8 C1025.58 317.1 1027.43 314.95 1029.3 313.5Z" fill="#fff" stroke="#000" stroke-width="1.7" stroke-linejoin="round"/>
<path d="M1008 336 L1017 325 L1027 316" fill="none" stroke="#000" stroke-width="1" stroke-linejoin="round" stroke-linecap="round"/>
<path d="M1006.5 350 L1008.5 370" fill="none" stroke="#000" stroke-width="1" stroke-linejoin="round" stroke-linecap="round"/>
<ellipse cx="1033" cy="314.8" rx="1.6" ry="2.2" transform="rotate(0 1033 314.8)" fill="none" stroke="#000" stroke-width="1.4"/>
<ellipse cx="1056.3" cy="336" rx="1.6" ry="2.2" transform="rotate(0 1056.3 336)" fill="none" stroke="#000" stroke-width="1.4"/>
<ellipse cx="1044" cy="371.7" rx="1.6" ry="2.2" transform="rotate(0 1044 371.7)" fill="none" stroke="#000" stroke-width="1.4"/>
<ellipse cx="1009.5" cy="377.4" rx="1.6" ry="2.2" transform="rotate(0 1009.5 377.4)" fill="none" stroke="#000" stroke-width="1.4"/>
<ellipse cx="1007.6" cy="339.8" rx="1.6" ry="2.2" transform="rotate(0 1007.6 339.8)" fill="none" stroke="#000" stroke-width="1.4"/>
<path d="M1025.93 371.39 L1024.09 370.62 L1022.36 369.62 L1020.74 368.4 L1019.27 366.97 L1017.96 365.35 L1016.82 363.56 L1015.86 361.61 L1015.1 359.53 L1014.54 357.34 L1014.19 355.06 L1014.06 352.73 L1014.15 350.37 L1014.45 347.99 L1014.96 345.64 L1015.67 343.34 L1016.59 341.11 L1017.69 338.97 L1018.97 336.96 L1020.41 335.1 L1021.99 333.39 L1023.7 331.88 L1025.52 330.56 L1027.42 329.46 L1029.39 328.59 L1031.41 327.95 L1033.45 327.57 L1035.48 327.43 L1037.49 327.54" fill="none" stroke="#000" stroke-width="1.8" stroke-linejoin="round" stroke-linecap="round"/>
<path d="M1022.96 370 L1021.32 368.87 L1019.81 367.54 L1018.45 366 L1017.25 364.3 L1016.23 362.43 L1015.4 360.42 L1014.76 358.3 L1014.32 356.09 L1014.1 353.81 L1014.08 351.48 L1016.92 352.45 L1016.93 354.78 L1017.16 357.06 L1017.6 359.28 L1018.23 361.4 L1019.07 363.4 L1020.09 365.27 L1021.29 366.98 L1022.65 368.51 L1024.15 369.84 L1025.79 370.97Z" fill="#000" stroke="#000" stroke-width="0.5" stroke-linejoin="round" stroke-linecap="round"/>
<ellipse cx="1036.15" cy="350.8" rx="18.79" ry="22.79" transform="rotate(18.9 1036.15 350.8)" fill="none" stroke="#000" stroke-width="1.5"/>
<ellipse cx="1041" cy="351.4" rx="12.18" ry="18.56" transform="rotate(18.9 1041 351.4)" fill="none" stroke="#000" stroke-width="1.8"/>
<path d="M1031.22 341.07 L1032.38 339.44 L1033.64 337.95 L1034.99 336.62 L1036.4 335.46 L1037.87 334.48 L1039.37 333.7 L1040.9 333.13 L1042.42 332.77 L1043.93 332.63 L1045.41 332.71 L1046.83 333 L1048.18 333.51 L1049.45 334.23 L1050.63 335.15 L1051.69 336.26 L1052.62 337.54 L1053.42 338.99 L1054.08 340.58 L1054.58 342.3 L1054.92 344.12 L1055.11 346.03" fill="none" stroke="#000" stroke-width="1" stroke-linejoin="round" stroke-linecap="round"/>
<path d="M1040.5 336 L1048 334.5 L1052 340 L1053 348 L1041 345.5Z" fill="#000" stroke="#000" stroke-width="0.5" stroke-linejoin="round" stroke-linecap="round"/>
<path d="M1041.92 364.79 L1040.87 365.14 L1039.83 365.35 L1038.81 365.4 L1037.82 365.29 L1036.87 365.03 L1035.98 364.62 L1035.15 364.06 L1034.39 363.36 L1033.72 362.53 L1033.13 361.58 L1032.65 360.51 L1032.26 359.35 L1031.98 358.1" fill="none" stroke="#000" stroke-width="1.2" stroke-linejoin="round" stroke-linecap="round"/>
<circle cx="1041" cy="323.5" r="2.1" fill="#000"/>
<ellipse cx="1118.25" cy="377" rx="47.71" ry="64.56" transform="rotate(18.9 1118.25 377)" fill="#fff" stroke="#000" stroke-width="1.4"/>
<rect x="1122" y="313" width="5" height="4" fill="#fff"/>
<path d="M1094.98 435.22 L1090.69 432.05 L1086.8 428.23 L1083.36 423.79 L1080.41 418.79 L1077.98 413.3 L1076.11 407.39 L1074.81 401.11 L1074.11 394.57 L1074.01 387.82 L1074.51 380.96 L1075.61 374.07" fill="none" stroke="#000" stroke-width="1.2" stroke-linejoin="round" stroke-linecap="round"/>
<path d="M1095.78 437.5 L1090.94 435.14 L1086.44 432.05 L1082.35 428.27 L1078.71 423.83 L1075.57 418.81 L1072.97 413.25 L1070.94 407.24 L1069.51 400.85 L1068.7 394.15 L1073.16 392.61 L1073.9 398.7 L1075.2 404.52 L1077.05 409.99 L1079.41 415.05 L1082.27 419.62 L1085.58 423.65 L1089.31 427.1 L1093.4 429.91 L1097.8 432.05Z" fill="#000" stroke="#000" stroke-width="0.5" stroke-linejoin="round" stroke-linecap="round"/>
<path d="M1068.7 394.15 L1068.5 388.26 L1068.76 382.27 L1069.47 376.23 L1070.64 370.19 L1072.3 370.43 L1071.18 376.26 L1070.49 382.09 L1070.24 387.87 L1070.43 393.55Z" fill="#000" stroke="#000" stroke-width="0.5" stroke-linejoin="round" stroke-linecap="round"/>
<path d="M1095.01 332.65 L1099.32 328.89 L1103.84 325.66 L1108.52 322.99 L1113.3 320.91 L1118.13 319.45" fill="none" stroke="#000" stroke-width="1.2" stroke-linejoin="round" stroke-linecap="round"/>
<ellipse cx="1122.1" cy="378.8" rx="31.46" ry="46.76" transform="rotate(18.9 1122.1 378.8)" fill="none" stroke="#000" stroke-width="1.4"/>
<ellipse cx="1125.95" cy="379.6" rx="22.6" ry="34.01" transform="rotate(18.9 1125.95 379.6)" fill="none" stroke="#000" stroke-width="1.5"/>
<path d="M1141.5 347.75 L1143.67 349.38 L1145.64 351.34 L1147.4 353.62 L1148.93 356.17 L1150.2 358.99 L1151.21 362.03 L1151.94 365.26 L1152.39 368.65 L1152.54 372.16 L1152.41 375.75" fill="none" stroke="#000" stroke-width="2.2" stroke-linejoin="round" stroke-linecap="round"/>
<path d="M1112.22 364.65 L1113.73 362.47 L1115.36 360.46 L1117.1 358.65 L1118.92 357.06 L1120.81 355.7 L1122.75 354.6 L1124.71 353.76 L1126.67 353.19 L1128.61 352.9 L1130.52 352.89 L1132.36 353.16 L1134.12 353.72 L1135.78 354.54 L1137.32 355.63 L1138.73 356.97" fill="none" stroke="#000" stroke-width="1.2" stroke-linejoin="round" stroke-linecap="round"/>
<path d="M1116.89 364.69 L1118.24 363.2 L1119.67 361.88 L1121.16 360.74 L1122.69 359.79 L1124.24 359.05 L1125.8 358.53 L1127.35 358.22 L1128.88 358.14 L1130.36 358.28 L1131.78 358.65 L1133.13 359.23 L1134.39 360.03 L1135.54 361.03 L1136.58 362.22 L1137.49 363.59" fill="none" stroke="#000" stroke-width="1.2" stroke-linejoin="round" stroke-linecap="round"/>
<path d="M1131.08 395.95 L1129.45 397.28 L1127.77 398.39 L1126.05 399.26 L1124.32 399.89 L1122.6 400.26 L1120.91 400.38 L1119.26 400.24 L1117.68 399.84 L1116.19 399.19 L1114.8 398.29 L1113.53 397.16 L1112.4 395.81 L1111.41 394.25 L1110.59 392.51 L1109.94 390.6 L1109.47 388.55" fill="none" stroke="#000" stroke-width="1.2" stroke-linejoin="round" stroke-linecap="round"/>
<path d="M1125.52 394.36 L1124.27 394.79 L1123.01 395.03 L1121.78 395.1 L1120.59 394.98 L1119.44 394.69 L1118.35 394.22 L1117.34 393.58 L1116.41 392.77 L1115.57 391.81 L1114.83 390.7 L1114.21 389.47 L1113.7 388.11 L1113.32 386.65 L1113.06 385.1 L1112.94 383.48" fill="none" stroke="#000" stroke-width="1.2" stroke-linejoin="round" stroke-linecap="round"/>
<path d="M1147 352 L1151 372 L1150 392" fill="none" stroke="#000" stroke-width="1.1" stroke-linejoin="round" stroke-linecap="round"/>
<ellipse cx="1131.4" cy="349.7" rx="1.4" ry="1.8" transform="rotate(0 1131.4 349.7)" fill="none" stroke="#000" stroke-width="1.2"/>
<ellipse cx="1139" cy="369.9" rx="1.4" ry="1.8" transform="rotate(0 1139 369.9)" fill="none" stroke="#000" stroke-width="1.2"/>
<ellipse cx="1112.8" cy="407.1" rx="1.4" ry="1.8" transform="rotate(0 1112.8 407.1)" fill="none" stroke="#000" stroke-width="1.2"/>
<ellipse cx="1126" cy="381.15" rx="5.89" ry="8.37" transform="rotate(18.9 1126 381.15)" fill="none" stroke="#000" stroke-width="2.2"/>
<circle cx="1126" cy="325" r="2.1" fill="#000"/>
<ellipse cx="1190.75" cy="387.2" rx="9.38" ry="12.49" transform="rotate(18.9 1190.75 387.2)" fill="#fff" stroke="#000" stroke-width="1.9"/>
<ellipse cx="1192.05" cy="386.95" rx="4.27" ry="6.44" transform="rotate(18.9 1192.05 386.95)" fill="none" stroke="#000" stroke-width="1.6"/>
<path d="M1188.96 383.56 L1189.34 383.02 L1189.75 382.52 L1190.18 382.08 L1190.64 381.68 L1191.11 381.35 L1191.59 381.09 L1192.08 380.89 L1192.57 380.76 L1193.05 380.7 L1193.52 380.72 L1193.97 380.8 L1194.4 380.96 L1194.81 381.19 L1195.18 381.48 L1195.52 381.84 L1195.81 382.25 L1196.06 382.72 L1196.27 383.24 L1196.43 383.8 L1196.54 384.4 L1196.59 385.02 L1196.6 385.67 L1196.55 386.33 L1196.45 387 L1196.29 387.67 L1196.09 388.33 L1194.27 387.71 L1194.38 387.35 L1194.47 386.98 L1194.52 386.61 L1194.55 386.25 L1194.55 385.89 L1194.52 385.54 L1194.46 385.22 L1194.37 384.91 L1194.26 384.62 L1194.12 384.37 L1193.96 384.14 L1193.77 383.94 L1193.57 383.78 L1193.34 383.66 L1193.11 383.57 L1192.86 383.52 L1192.6 383.51 L1192.33 383.55 L1192.07 383.62 L1191.8 383.73 L1191.53 383.87 L1191.27 384.05 L1191.02 384.27 L1190.78 384.51 L1190.56 384.79 L1190.35 385.09Z" fill="#000" stroke="#000" stroke-width="0.5" stroke-linejoin="round" stroke-linecap="round"/>
<path d="M1200.11 378.4 L1200.72 379.38 L1201.23 380.44 L1201.63 381.57 L1201.93 382.77 L1202.11 384.01 L1202.18 385.29 L1202.14 386.6 L1201.98 387.9 L1201.71 389.2 L1201.33 390.48" fill="none" stroke="#000" stroke-width="1.2" stroke-linejoin="round" stroke-linecap="round"/>
<path d="M1207.5 387 L1230.8 393.2 L1232.4 408.7 L1206 399.4Z" fill="#fff" stroke="#000" stroke-width="0" stroke-linejoin="round" stroke-linecap="round"/>
<path d="M1207.5 387 L1230.8 393.2" fill="none" stroke="#000" stroke-width="1.7" stroke-linejoin="round" stroke-linecap="round"/>
<path d="M1206 399.4 L1232.4 408.7" fill="none" stroke="#000" stroke-width="2.2" stroke-linejoin="round" stroke-linecap="round"/>
<path d="M1205.91 399.4 L1205.69 399.33 L1205.48 399.19 L1205.29 398.98 L1205.12 398.71 L1204.97 398.38 L1204.84 397.99 L1204.74 397.56 L1204.66 397.07 L1204.6 396.54 L1204.58 395.97 L1204.58 395.37 L1204.6 394.75 L1204.65 394.12 L1204.73 393.47 L1204.83 392.82 L1204.96 392.17 L1205.11 391.54 L1205.28 390.92 L1205.47 390.33 L1205.67 389.77 L1205.89 389.24 L1206.12 388.76 L1206.36 388.33 L1206.61 387.96 L1206.86 387.64 L1207.12 387.38 L1207.37 387.18 L1207.62 387.05 L1207.86 386.99 L1208.09 387" fill="none" stroke="#000" stroke-width="1.6" stroke-linejoin="round" stroke-linecap="round"/>
<path d="M1210 388.2 L1209.5 400.5" fill="none" stroke="#000" stroke-width="1.3" stroke-linejoin="round" stroke-linecap="round"/>
<path d="M1213.6 389.15 L1213.1 401.8" fill="none" stroke="#000" stroke-width="1.3" stroke-linejoin="round" stroke-linecap="round"/>
<path d="M1217.2 390.1 L1216.7 403.1" fill="none" stroke="#000" stroke-width="1.3" stroke-linejoin="round" stroke-linecap="round"/>
<path d="M1220.8 391.05 L1220.3 404.4" fill="none" stroke="#000" stroke-width="1.3" stroke-linejoin="round" stroke-linecap="round"/>
<path d="M1224.4 392 L1223.9 405.7" fill="none" stroke="#000" stroke-width="1.3" stroke-linejoin="round" stroke-linecap="round"/>
<path d="M1228 392.95 L1227.5 407" fill="none" stroke="#000" stroke-width="1.3" stroke-linejoin="round" stroke-linecap="round"/>
<path d="M1230.8 393.2 L1232.4 393.2 L1241.7 391.2 L1249.4 392.8 L1253.3 399 L1254 405.6 L1251 413.4 L1243.2 416.8 L1237 415.2 L1232.4 411.8 L1230.8 408Z" fill="#fff" stroke="#000" stroke-width="1.8" stroke-linejoin="round" stroke-linecap="round"/>
<path d="M1238.2 393.8 L1237.6 404 L1239.8 415.6" fill="none" stroke="#000" stroke-width="1.2" stroke-linejoin="round" stroke-linecap="round"/>
<path d="M1250.17 393.76 L1250.73 394.34 L1251.24 395.02 L1251.7 395.8 L1252.09 396.67 L1252.41 397.62 L1252.67 398.65 L1252.85 399.73 L1252.96 400.85 L1252.99 402.01 L1252.94 403.2 L1252.82 404.39 L1252.62 405.58 L1252.35 406.75 L1252.01 407.89 L1251.61 408.98 L1251.14 410.03 L1250.62 411 L1250.05 411.9 L1249.43 412.72 L1248.77 413.43 L1248.09 414.05 L1247.38 414.55 L1246.66 414.94 L1245.93 415.21 L1245.2 415.36" fill="none" stroke="#000" stroke-width="1.2" stroke-linejoin="round" stroke-linecap="round"/>
<circle cx="1232" cy="397.5" r="2.1" fill="#000"/>
<line x1="80" y1="196.6" x2="95" y2="202" stroke="#000" stroke-width="1.2"/>
<line x1="111.6" y1="239.6" x2="150" y2="251.3" stroke="#000" stroke-width="1.2"/>
<line x1="172.5" y1="257.5" x2="200" y2="266.9" stroke="#000" stroke-width="1.2"/>
<line x1="223.75" y1="275.03" x2="250" y2="284" stroke="#000" stroke-width="1.2"/>
<line x1="336.4" y1="313.55" x2="366.3" y2="323.78" stroke="#000" stroke-width="1.2"/>
<line x1="437.5" y1="348.13" x2="456" y2="354.46" stroke="#000" stroke-width="1.2"/>
<line x1="482.5" y1="363.52" x2="516" y2="374.98" stroke="#000" stroke-width="1.2"/>
<line x1="592.5" y1="401.14" x2="617.5" y2="409.69" stroke="#000" stroke-width="1.2"/>
<line x1="670" y1="427.64" x2="722" y2="445.43" stroke="#000" stroke-width="1.2"/>
<line x1="752.5" y1="455.86" x2="768.75" y2="461.42" stroke="#000" stroke-width="1.2"/>
<line x1="812.5" y1="476.38" x2="827.5" y2="481.51" stroke="#000" stroke-width="1.2"/>
<line x1="852.5" y1="490.06" x2="873.75" y2="497.33" stroke="#000" stroke-width="1.2"/>
<line x1="898.2" y1="505.69" x2="916.7" y2="512.02" stroke="#000" stroke-width="1.2"/>
<line x1="990" y1="537.09" x2="1005.6" y2="542.42" stroke="#000" stroke-width="1.2"/>
<line x1="954.75" y1="322.2" x2="1002" y2="338.4" stroke="#000" stroke-width="1.2"/>
<line x1="1034.25" y1="348.9" x2="1070.9" y2="362" stroke="#000" stroke-width="1.2"/>
<line x1="1126.8" y1="381.5" x2="1153.2" y2="389.3" stroke="#000" stroke-width="1.2"/>
<line x1="1145.4" y1="372.2" x2="1181" y2="383.9" stroke="#000" stroke-width="1.2"/>
<line x1="1195" y1="388.5" x2="1206" y2="391.6" stroke="#000" stroke-width="1.2"/>
</svg></body></html>
